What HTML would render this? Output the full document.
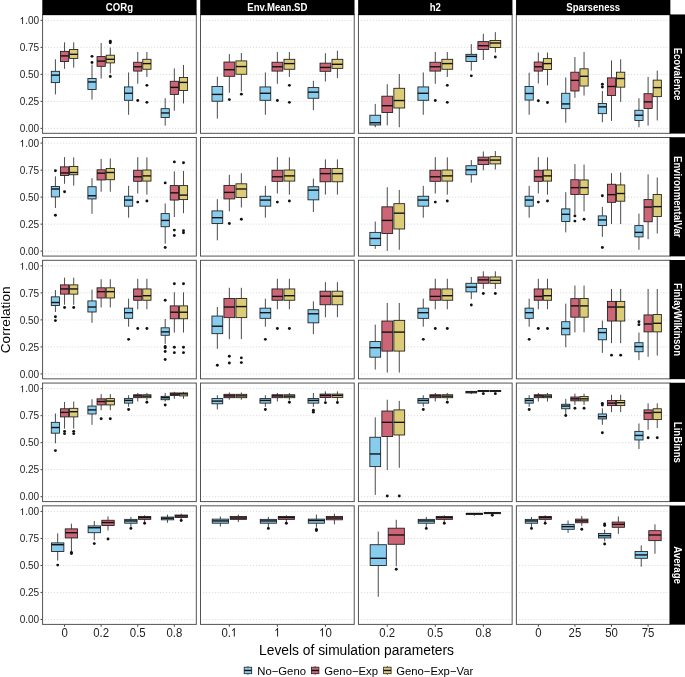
<!DOCTYPE html><html><head><meta charset="utf-8"><style>html,body{margin:0;padding:0;background:#fff;}svg{display:block;will-change:transform;}text{font-family:"Liberation Sans",sans-serif;}</style></head><body><svg width="685" height="677" viewBox="0 0 685 677"><rect x="0" y="0" width="685" height="677" fill="#fff"/><line x1="45.1" y1="128.37" x2="195.8" y2="128.37" stroke="#d2d2d2" stroke-width="0.9" stroke-dasharray="1 1.95" /><line x1="45.1" y1="101.37" x2="195.8" y2="101.37" stroke="#d2d2d2" stroke-width="0.9" stroke-dasharray="1 1.95" /><line x1="45.1" y1="74.36" x2="195.8" y2="74.36" stroke="#d2d2d2" stroke-width="0.9" stroke-dasharray="1 1.95" /><line x1="45.1" y1="47.36" x2="195.8" y2="47.36" stroke="#d2d2d2" stroke-width="0.9" stroke-dasharray="1 1.95" /><line x1="45.1" y1="20.35" x2="195.8" y2="20.35" stroke="#d2d2d2" stroke-width="0.9" stroke-dasharray="1 1.95" /><line x1="55.41" y1="59.3" x2="55.41" y2="71.3" stroke="#2a2a2a" stroke-width="0.85"/><line x1="55.41" y1="82.63" x2="55.41" y2="94.4" stroke="#2a2a2a" stroke-width="0.85"/><rect x="51.29" y="71.3" width="8.23" height="11.32" fill="#88CCEE" stroke="#1a1a1a" stroke-width="0.85"/><line x1="51.29" y1="75.15" x2="59.53" y2="75.15" stroke="#111" stroke-width="1.4"/><line x1="64.56" y1="42.32" x2="64.56" y2="51.37" stroke="#2a2a2a" stroke-width="0.85"/><line x1="64.56" y1="61.57" x2="64.56" y2="68.81" stroke="#2a2a2a" stroke-width="0.85"/><rect x="60.44" y="51.37" width="8.23" height="10.19" fill="#CC6677" stroke="#1a1a1a" stroke-width="0.85"/><line x1="60.44" y1="55.9" x2="68.67" y2="55.9" stroke="#111" stroke-width="1.4"/><line x1="73.71" y1="42.32" x2="73.71" y2="49.56" stroke="#2a2a2a" stroke-width="0.85"/><line x1="73.71" y1="58.39" x2="73.71" y2="67.68" stroke="#2a2a2a" stroke-width="0.85"/><rect x="69.59" y="49.56" width="8.23" height="8.83" fill="#DDCC77" stroke="#1a1a1a" stroke-width="0.85"/><line x1="69.59" y1="54.32" x2="77.82" y2="54.32" stroke="#111" stroke-width="1.4"/><line x1="92" y1="64.51" x2="92" y2="78.55" stroke="#2a2a2a" stroke-width="0.85"/><line x1="92" y1="89.42" x2="92" y2="99.61" stroke="#2a2a2a" stroke-width="0.85"/><rect x="87.89" y="78.55" width="8.23" height="10.87" fill="#88CCEE" stroke="#1a1a1a" stroke-width="0.85"/><line x1="87.89" y1="81.95" x2="96.12" y2="81.95" stroke="#111" stroke-width="1.4"/><circle cx="92" cy="56.36" r="1.45" fill="#111"/><circle cx="92" cy="62.47" r="1.45" fill="#111"/><line x1="101.15" y1="43" x2="101.15" y2="56.58" stroke="#2a2a2a" stroke-width="0.85"/><line x1="101.15" y1="66.32" x2="101.15" y2="78.55" stroke="#2a2a2a" stroke-width="0.85"/><rect x="97.04" y="56.58" width="8.23" height="9.74" fill="#CC6677" stroke="#1a1a1a" stroke-width="0.85"/><line x1="97.04" y1="61.11" x2="105.27" y2="61.11" stroke="#111" stroke-width="1.4"/><line x1="110.3" y1="47.52" x2="110.3" y2="55.22" stroke="#2a2a2a" stroke-width="0.85"/><line x1="110.3" y1="62.92" x2="110.3" y2="73.34" stroke="#2a2a2a" stroke-width="0.85"/><rect x="106.18" y="55.22" width="8.23" height="7.7" fill="#DDCC77" stroke="#1a1a1a" stroke-width="0.85"/><line x1="106.18" y1="59.3" x2="114.42" y2="59.3" stroke="#111" stroke-width="1.4"/><circle cx="110.3" cy="41.18" r="1.45" fill="#111"/><circle cx="110.3" cy="42.77" r="1.45" fill="#111"/><circle cx="110.3" cy="76.51" r="1.45" fill="#111"/><line x1="128.6" y1="72.44" x2="128.6" y2="86.93" stroke="#2a2a2a" stroke-width="0.85"/><line x1="128.6" y1="100.29" x2="128.6" y2="114.78" stroke="#2a2a2a" stroke-width="0.85"/><rect x="124.48" y="86.93" width="8.23" height="13.36" fill="#88CCEE" stroke="#1a1a1a" stroke-width="0.85"/><line x1="124.48" y1="93.27" x2="132.72" y2="93.27" stroke="#111" stroke-width="1.4"/><line x1="137.75" y1="52.05" x2="137.75" y2="62.24" stroke="#2a2a2a" stroke-width="0.85"/><line x1="137.75" y1="71.08" x2="137.75" y2="83.76" stroke="#2a2a2a" stroke-width="0.85"/><rect x="133.63" y="62.24" width="8.23" height="8.83" fill="#CC6677" stroke="#1a1a1a" stroke-width="0.85"/><line x1="133.63" y1="66.77" x2="141.86" y2="66.77" stroke="#111" stroke-width="1.4"/><circle cx="137.75" cy="100.52" r="1.45" fill="#111"/><line x1="146.9" y1="52.05" x2="146.9" y2="59.3" stroke="#2a2a2a" stroke-width="0.85"/><line x1="146.9" y1="69.26" x2="146.9" y2="76.96" stroke="#2a2a2a" stroke-width="0.85"/><rect x="142.78" y="59.3" width="8.23" height="9.96" fill="#DDCC77" stroke="#1a1a1a" stroke-width="0.85"/><line x1="142.78" y1="63.6" x2="151.01" y2="63.6" stroke="#111" stroke-width="1.4"/><circle cx="146.9" cy="85.34" r="1.45" fill="#111"/><circle cx="146.9" cy="102.33" r="1.45" fill="#111"/><line x1="165.19" y1="98.25" x2="165.19" y2="108.67" stroke="#2a2a2a" stroke-width="0.85"/><line x1="165.19" y1="117.5" x2="165.19" y2="125.65" stroke="#2a2a2a" stroke-width="0.85"/><rect x="161.08" y="108.67" width="8.23" height="8.83" fill="#88CCEE" stroke="#1a1a1a" stroke-width="0.85"/><line x1="161.08" y1="112.97" x2="169.31" y2="112.97" stroke="#111" stroke-width="1.4"/><line x1="174.34" y1="68.36" x2="174.34" y2="81.27" stroke="#2a2a2a" stroke-width="0.85"/><line x1="174.34" y1="94.4" x2="174.34" y2="110.71" stroke="#2a2a2a" stroke-width="0.85"/><rect x="170.23" y="81.27" width="8.23" height="13.13" fill="#CC6677" stroke="#1a1a1a" stroke-width="0.85"/><line x1="170.23" y1="87.38" x2="178.46" y2="87.38" stroke="#111" stroke-width="1.4"/><line x1="183.49" y1="64.96" x2="183.49" y2="77.42" stroke="#2a2a2a" stroke-width="0.85"/><line x1="183.49" y1="90.55" x2="183.49" y2="103.46" stroke="#2a2a2a" stroke-width="0.85"/><rect x="179.37" y="77.42" width="8.23" height="13.13" fill="#DDCC77" stroke="#1a1a1a" stroke-width="0.85"/><line x1="179.37" y1="82.4" x2="187.61" y2="82.4" stroke="#111" stroke-width="1.4"/><rect x="42.6" y="14.75" width="153.7" height="118.55" fill="none" stroke="#4a4a4a" stroke-width="0.95"/><line x1="203.02" y1="128.37" x2="353.72" y2="128.37" stroke="#d2d2d2" stroke-width="0.9" stroke-dasharray="1 1.95" /><line x1="203.02" y1="101.37" x2="353.72" y2="101.37" stroke="#d2d2d2" stroke-width="0.9" stroke-dasharray="1 1.95" /><line x1="203.02" y1="74.36" x2="353.72" y2="74.36" stroke="#d2d2d2" stroke-width="0.9" stroke-dasharray="1 1.95" /><line x1="203.02" y1="47.36" x2="353.72" y2="47.36" stroke="#d2d2d2" stroke-width="0.9" stroke-dasharray="1 1.95" /><line x1="203.02" y1="20.35" x2="353.72" y2="20.35" stroke="#d2d2d2" stroke-width="0.9" stroke-dasharray="1 1.95" /><line x1="217.33" y1="76.74" x2="217.33" y2="86.48" stroke="#2a2a2a" stroke-width="0.85"/><line x1="217.33" y1="101.2" x2="217.33" y2="118.63" stroke="#2a2a2a" stroke-width="0.85"/><rect x="211.93" y="86.48" width="10.81" height="14.72" fill="#88CCEE" stroke="#1a1a1a" stroke-width="0.85"/><line x1="211.93" y1="94.4" x2="222.73" y2="94.4" stroke="#111" stroke-width="1.4"/><line x1="229.34" y1="54.09" x2="229.34" y2="62.02" stroke="#2a2a2a" stroke-width="0.85"/><line x1="229.34" y1="76.28" x2="229.34" y2="92.82" stroke="#2a2a2a" stroke-width="0.85"/><rect x="223.94" y="62.02" width="10.81" height="14.27" fill="#CC6677" stroke="#1a1a1a" stroke-width="0.85"/><line x1="223.94" y1="69.72" x2="234.74" y2="69.72" stroke="#111" stroke-width="1.4"/><circle cx="229.34" cy="99.61" r="1.45" fill="#111"/><line x1="241.35" y1="52.96" x2="241.35" y2="60.89" stroke="#2a2a2a" stroke-width="0.85"/><line x1="241.35" y1="74.25" x2="241.35" y2="91.46" stroke="#2a2a2a" stroke-width="0.85"/><rect x="235.94" y="60.89" width="10.81" height="13.36" fill="#DDCC77" stroke="#1a1a1a" stroke-width="0.85"/><line x1="235.94" y1="66.55" x2="246.75" y2="66.55" stroke="#111" stroke-width="1.4"/><circle cx="241.35" cy="94.17" r="1.45" fill="#111"/><line x1="265.36" y1="72.44" x2="265.36" y2="86.93" stroke="#2a2a2a" stroke-width="0.85"/><line x1="265.36" y1="100.29" x2="265.36" y2="114.78" stroke="#2a2a2a" stroke-width="0.85"/><rect x="259.96" y="86.93" width="10.81" height="13.36" fill="#88CCEE" stroke="#1a1a1a" stroke-width="0.85"/><line x1="259.96" y1="93.27" x2="270.77" y2="93.27" stroke="#111" stroke-width="1.4"/><line x1="277.37" y1="52.05" x2="277.37" y2="62.24" stroke="#2a2a2a" stroke-width="0.85"/><line x1="277.37" y1="71.08" x2="277.37" y2="83.76" stroke="#2a2a2a" stroke-width="0.85"/><rect x="271.97" y="62.24" width="10.81" height="8.83" fill="#CC6677" stroke="#1a1a1a" stroke-width="0.85"/><line x1="271.97" y1="66.77" x2="282.77" y2="66.77" stroke="#111" stroke-width="1.4"/><circle cx="277.37" cy="100.52" r="1.45" fill="#111"/><line x1="289.38" y1="52.05" x2="289.38" y2="59.3" stroke="#2a2a2a" stroke-width="0.85"/><line x1="289.38" y1="69.26" x2="289.38" y2="76.96" stroke="#2a2a2a" stroke-width="0.85"/><rect x="283.97" y="59.3" width="10.81" height="9.96" fill="#DDCC77" stroke="#1a1a1a" stroke-width="0.85"/><line x1="283.97" y1="63.6" x2="294.78" y2="63.6" stroke="#111" stroke-width="1.4"/><circle cx="289.38" cy="85.34" r="1.45" fill="#111"/><circle cx="289.38" cy="102.33" r="1.45" fill="#111"/><line x1="313.39" y1="80.81" x2="313.39" y2="87.61" stroke="#2a2a2a" stroke-width="0.85"/><line x1="313.39" y1="98.25" x2="313.39" y2="110.25" stroke="#2a2a2a" stroke-width="0.85"/><rect x="307.99" y="87.61" width="10.81" height="10.64" fill="#88CCEE" stroke="#1a1a1a" stroke-width="0.85"/><line x1="307.99" y1="92.14" x2="318.8" y2="92.14" stroke="#111" stroke-width="1.4"/><line x1="325.4" y1="53.19" x2="325.4" y2="63.15" stroke="#2a2a2a" stroke-width="0.85"/><line x1="325.4" y1="71.3" x2="325.4" y2="81.49" stroke="#2a2a2a" stroke-width="0.85"/><rect x="320" y="63.15" width="10.81" height="8.15" fill="#CC6677" stroke="#1a1a1a" stroke-width="0.85"/><line x1="320" y1="67.45" x2="330.8" y2="67.45" stroke="#111" stroke-width="1.4"/><line x1="337.41" y1="50.7" x2="337.41" y2="59.3" stroke="#2a2a2a" stroke-width="0.85"/><line x1="337.41" y1="68.36" x2="337.41" y2="78.1" stroke="#2a2a2a" stroke-width="0.85"/><rect x="332.01" y="59.3" width="10.81" height="9.06" fill="#DDCC77" stroke="#1a1a1a" stroke-width="0.85"/><line x1="332.01" y1="64.28" x2="342.81" y2="64.28" stroke="#111" stroke-width="1.4"/><rect x="200.52" y="14.75" width="153.7" height="118.55" fill="none" stroke="#4a4a4a" stroke-width="0.95"/><line x1="360.94" y1="128.37" x2="511.64" y2="128.37" stroke="#d2d2d2" stroke-width="0.9" stroke-dasharray="1 1.95" /><line x1="360.94" y1="101.37" x2="511.64" y2="101.37" stroke="#d2d2d2" stroke-width="0.9" stroke-dasharray="1 1.95" /><line x1="360.94" y1="74.36" x2="511.64" y2="74.36" stroke="#d2d2d2" stroke-width="0.9" stroke-dasharray="1 1.95" /><line x1="360.94" y1="47.36" x2="511.64" y2="47.36" stroke="#d2d2d2" stroke-width="0.9" stroke-dasharray="1 1.95" /><line x1="360.94" y1="20.35" x2="511.64" y2="20.35" stroke="#d2d2d2" stroke-width="0.9" stroke-dasharray="1 1.95" /><line x1="375.25" y1="103.91" x2="375.25" y2="115.24" stroke="#2a2a2a" stroke-width="0.85"/><line x1="375.25" y1="124.97" x2="375.25" y2="127.24" stroke="#2a2a2a" stroke-width="0.85"/><rect x="369.85" y="115.24" width="10.81" height="9.74" fill="#88CCEE" stroke="#1a1a1a" stroke-width="0.85"/><line x1="369.85" y1="122.71" x2="380.65" y2="122.71" stroke="#111" stroke-width="1.4"/><line x1="387.26" y1="84.21" x2="387.26" y2="96.21" stroke="#2a2a2a" stroke-width="0.85"/><line x1="387.26" y1="112.52" x2="387.26" y2="125.43" stroke="#2a2a2a" stroke-width="0.85"/><rect x="381.86" y="96.21" width="10.81" height="16.3" fill="#CC6677" stroke="#1a1a1a" stroke-width="0.85"/><line x1="381.86" y1="105.72" x2="392.66" y2="105.72" stroke="#111" stroke-width="1.4"/><line x1="399.27" y1="74.02" x2="399.27" y2="88.29" stroke="#2a2a2a" stroke-width="0.85"/><line x1="399.27" y1="107.99" x2="399.27" y2="127.24" stroke="#2a2a2a" stroke-width="0.85"/><rect x="393.86" y="88.29" width="10.81" height="19.7" fill="#DDCC77" stroke="#1a1a1a" stroke-width="0.85"/><line x1="393.86" y1="100.52" x2="404.67" y2="100.52" stroke="#111" stroke-width="1.4"/><line x1="423.28" y1="72.44" x2="423.28" y2="86.93" stroke="#2a2a2a" stroke-width="0.85"/><line x1="423.28" y1="100.29" x2="423.28" y2="114.78" stroke="#2a2a2a" stroke-width="0.85"/><rect x="417.88" y="86.93" width="10.81" height="13.36" fill="#88CCEE" stroke="#1a1a1a" stroke-width="0.85"/><line x1="417.88" y1="93.27" x2="428.69" y2="93.27" stroke="#111" stroke-width="1.4"/><line x1="435.29" y1="52.05" x2="435.29" y2="62.24" stroke="#2a2a2a" stroke-width="0.85"/><line x1="435.29" y1="71.08" x2="435.29" y2="83.76" stroke="#2a2a2a" stroke-width="0.85"/><rect x="429.89" y="62.24" width="10.81" height="8.83" fill="#CC6677" stroke="#1a1a1a" stroke-width="0.85"/><line x1="429.89" y1="66.77" x2="440.69" y2="66.77" stroke="#111" stroke-width="1.4"/><circle cx="435.29" cy="100.52" r="1.45" fill="#111"/><line x1="447.3" y1="52.05" x2="447.3" y2="59.3" stroke="#2a2a2a" stroke-width="0.85"/><line x1="447.3" y1="69.26" x2="447.3" y2="76.96" stroke="#2a2a2a" stroke-width="0.85"/><rect x="441.89" y="59.3" width="10.81" height="9.96" fill="#DDCC77" stroke="#1a1a1a" stroke-width="0.85"/><line x1="441.89" y1="63.6" x2="452.7" y2="63.6" stroke="#111" stroke-width="1.4"/><circle cx="447.3" cy="85.34" r="1.45" fill="#111"/><circle cx="447.3" cy="102.33" r="1.45" fill="#111"/><line x1="471.31" y1="44.13" x2="471.31" y2="54.32" stroke="#2a2a2a" stroke-width="0.85"/><line x1="471.31" y1="61.57" x2="471.31" y2="70.62" stroke="#2a2a2a" stroke-width="0.85"/><rect x="465.91" y="54.32" width="10.81" height="7.25" fill="#88CCEE" stroke="#1a1a1a" stroke-width="0.85"/><line x1="465.91" y1="56.36" x2="476.72" y2="56.36" stroke="#111" stroke-width="1.4"/><circle cx="471.31" cy="75.83" r="1.45" fill="#111"/><line x1="483.32" y1="33.71" x2="483.32" y2="41.64" stroke="#2a2a2a" stroke-width="0.85"/><line x1="483.32" y1="49.56" x2="483.32" y2="59.98" stroke="#2a2a2a" stroke-width="0.85"/><rect x="477.92" y="41.64" width="10.81" height="7.93" fill="#CC6677" stroke="#1a1a1a" stroke-width="0.85"/><line x1="477.92" y1="45.71" x2="488.72" y2="45.71" stroke="#111" stroke-width="1.4"/><line x1="495.33" y1="32.13" x2="495.33" y2="40.5" stroke="#2a2a2a" stroke-width="0.85"/><line x1="495.33" y1="47.52" x2="495.33" y2="52.51" stroke="#2a2a2a" stroke-width="0.85"/><rect x="489.93" y="40.5" width="10.81" height="7.02" fill="#DDCC77" stroke="#1a1a1a" stroke-width="0.85"/><line x1="489.93" y1="43" x2="500.73" y2="43" stroke="#111" stroke-width="1.4"/><circle cx="495.33" cy="57.04" r="1.45" fill="#111"/><rect x="358.44" y="14.75" width="153.7" height="118.55" fill="none" stroke="#4a4a4a" stroke-width="0.95"/><line x1="518.86" y1="128.37" x2="669.56" y2="128.37" stroke="#d2d2d2" stroke-width="0.9" stroke-dasharray="1 1.95" /><line x1="518.86" y1="101.37" x2="669.56" y2="101.37" stroke="#d2d2d2" stroke-width="0.9" stroke-dasharray="1 1.95" /><line x1="518.86" y1="74.36" x2="669.56" y2="74.36" stroke="#d2d2d2" stroke-width="0.9" stroke-dasharray="1 1.95" /><line x1="518.86" y1="47.36" x2="669.56" y2="47.36" stroke="#d2d2d2" stroke-width="0.9" stroke-dasharray="1 1.95" /><line x1="518.86" y1="20.35" x2="669.56" y2="20.35" stroke="#d2d2d2" stroke-width="0.9" stroke-dasharray="1 1.95" /><line x1="529.17" y1="72.66" x2="529.17" y2="86.48" stroke="#2a2a2a" stroke-width="0.85"/><line x1="529.17" y1="100.06" x2="529.17" y2="114.78" stroke="#2a2a2a" stroke-width="0.85"/><rect x="525.05" y="86.48" width="8.23" height="13.59" fill="#88CCEE" stroke="#1a1a1a" stroke-width="0.85"/><line x1="525.05" y1="93.5" x2="533.29" y2="93.5" stroke="#111" stroke-width="1.4"/><line x1="538.32" y1="52.51" x2="538.32" y2="62.02" stroke="#2a2a2a" stroke-width="0.85"/><line x1="538.32" y1="71.08" x2="538.32" y2="83.53" stroke="#2a2a2a" stroke-width="0.85"/><rect x="534.2" y="62.02" width="8.23" height="9.06" fill="#CC6677" stroke="#1a1a1a" stroke-width="0.85"/><line x1="534.2" y1="66.77" x2="542.43" y2="66.77" stroke="#111" stroke-width="1.4"/><circle cx="538.32" cy="100.74" r="1.45" fill="#111"/><line x1="547.47" y1="52.51" x2="547.47" y2="58.62" stroke="#2a2a2a" stroke-width="0.85"/><line x1="547.47" y1="69.49" x2="547.47" y2="85.34" stroke="#2a2a2a" stroke-width="0.85"/><rect x="543.35" y="58.62" width="8.23" height="10.87" fill="#DDCC77" stroke="#1a1a1a" stroke-width="0.85"/><line x1="543.35" y1="63.6" x2="551.58" y2="63.6" stroke="#111" stroke-width="1.4"/><circle cx="547.47" cy="102.55" r="1.45" fill="#111"/><line x1="565.76" y1="77.42" x2="565.76" y2="93.27" stroke="#2a2a2a" stroke-width="0.85"/><line x1="565.76" y1="108.67" x2="565.76" y2="122.71" stroke="#2a2a2a" stroke-width="0.85"/><rect x="561.65" y="93.27" width="8.23" height="15.4" fill="#88CCEE" stroke="#1a1a1a" stroke-width="0.85"/><line x1="561.65" y1="103.91" x2="569.88" y2="103.91" stroke="#111" stroke-width="1.4"/><line x1="574.91" y1="57.04" x2="574.91" y2="72.21" stroke="#2a2a2a" stroke-width="0.85"/><line x1="574.91" y1="91" x2="574.91" y2="97.8" stroke="#2a2a2a" stroke-width="0.85"/><rect x="570.8" y="72.21" width="8.23" height="18.8" fill="#CC6677" stroke="#1a1a1a" stroke-width="0.85"/><line x1="570.8" y1="80.36" x2="579.03" y2="80.36" stroke="#111" stroke-width="1.4"/><line x1="584.06" y1="52.05" x2="584.06" y2="68.81" stroke="#2a2a2a" stroke-width="0.85"/><line x1="584.06" y1="86.02" x2="584.06" y2="95.53" stroke="#2a2a2a" stroke-width="0.85"/><rect x="579.94" y="68.81" width="8.23" height="17.21" fill="#DDCC77" stroke="#1a1a1a" stroke-width="0.85"/><line x1="579.94" y1="76.28" x2="588.18" y2="76.28" stroke="#111" stroke-width="1.4"/><line x1="602.36" y1="91" x2="602.36" y2="103.46" stroke="#2a2a2a" stroke-width="0.85"/><line x1="602.36" y1="113.65" x2="602.36" y2="122.26" stroke="#2a2a2a" stroke-width="0.85"/><rect x="598.24" y="103.46" width="8.23" height="10.19" fill="#88CCEE" stroke="#1a1a1a" stroke-width="0.85"/><line x1="598.24" y1="106.86" x2="606.48" y2="106.86" stroke="#111" stroke-width="1.4"/><circle cx="602.36" cy="84.21" r="1.45" fill="#111"/><circle cx="602.36" cy="86.93" r="1.45" fill="#111"/><line x1="611.51" y1="60.43" x2="611.51" y2="77.87" stroke="#2a2a2a" stroke-width="0.85"/><line x1="611.51" y1="95.53" x2="611.51" y2="120.9" stroke="#2a2a2a" stroke-width="0.85"/><rect x="607.39" y="77.87" width="8.23" height="17.66" fill="#CC6677" stroke="#1a1a1a" stroke-width="0.85"/><line x1="607.39" y1="86.48" x2="615.62" y2="86.48" stroke="#111" stroke-width="1.4"/><line x1="620.66" y1="59.3" x2="620.66" y2="72.21" stroke="#2a2a2a" stroke-width="0.85"/><line x1="620.66" y1="87.15" x2="620.66" y2="101.87" stroke="#2a2a2a" stroke-width="0.85"/><rect x="616.54" y="72.21" width="8.23" height="14.95" fill="#DDCC77" stroke="#1a1a1a" stroke-width="0.85"/><line x1="616.54" y1="78.55" x2="624.77" y2="78.55" stroke="#111" stroke-width="1.4"/><line x1="638.95" y1="98.25" x2="638.95" y2="110.25" stroke="#2a2a2a" stroke-width="0.85"/><line x1="638.95" y1="120.44" x2="638.95" y2="127.24" stroke="#2a2a2a" stroke-width="0.85"/><rect x="634.84" y="110.25" width="8.23" height="10.19" fill="#88CCEE" stroke="#1a1a1a" stroke-width="0.85"/><line x1="634.84" y1="115.24" x2="643.07" y2="115.24" stroke="#111" stroke-width="1.4"/><line x1="648.1" y1="76.96" x2="648.1" y2="93.72" stroke="#2a2a2a" stroke-width="0.85"/><line x1="648.1" y1="108.44" x2="648.1" y2="125.65" stroke="#2a2a2a" stroke-width="0.85"/><rect x="643.99" y="93.72" width="8.23" height="14.72" fill="#CC6677" stroke="#1a1a1a" stroke-width="0.85"/><line x1="643.99" y1="101.87" x2="652.22" y2="101.87" stroke="#111" stroke-width="1.4"/><line x1="657.25" y1="70.62" x2="657.25" y2="80.13" stroke="#2a2a2a" stroke-width="0.85"/><line x1="657.25" y1="96.67" x2="657.25" y2="120.44" stroke="#2a2a2a" stroke-width="0.85"/><rect x="653.13" y="80.13" width="8.23" height="16.53" fill="#DDCC77" stroke="#1a1a1a" stroke-width="0.85"/><line x1="653.13" y1="87.61" x2="661.37" y2="87.61" stroke="#111" stroke-width="1.4"/><rect x="516.36" y="14.75" width="153.7" height="118.55" fill="none" stroke="#4a4a4a" stroke-width="0.95"/><line x1="45.1" y1="251.14" x2="195.8" y2="251.14" stroke="#d2d2d2" stroke-width="0.9" stroke-dasharray="1 1.95" /><line x1="45.1" y1="224.13" x2="195.8" y2="224.13" stroke="#d2d2d2" stroke-width="0.9" stroke-dasharray="1 1.95" /><line x1="45.1" y1="197.13" x2="195.8" y2="197.13" stroke="#d2d2d2" stroke-width="0.9" stroke-dasharray="1 1.95" /><line x1="45.1" y1="170.12" x2="195.8" y2="170.12" stroke="#d2d2d2" stroke-width="0.9" stroke-dasharray="1 1.95" /><line x1="45.1" y1="143.12" x2="195.8" y2="143.12" stroke="#d2d2d2" stroke-width="0.9" stroke-dasharray="1 1.95" /><line x1="55.41" y1="176.34" x2="55.41" y2="186.51" stroke="#2a2a2a" stroke-width="0.85"/><line x1="55.41" y1="196.9" x2="55.41" y2="207.98" stroke="#2a2a2a" stroke-width="0.85"/><rect x="51.29" y="186.51" width="8.23" height="10.4" fill="#88CCEE" stroke="#1a1a1a" stroke-width="0.85"/><line x1="51.29" y1="188.99" x2="59.53" y2="188.99" stroke="#111" stroke-width="1.4"/><circle cx="55.41" cy="170.69" r="1.45" fill="#111"/><circle cx="55.41" cy="215.21" r="1.45" fill="#111"/><line x1="64.56" y1="157.13" x2="64.56" y2="166.85" stroke="#2a2a2a" stroke-width="0.85"/><line x1="64.56" y1="175.44" x2="64.56" y2="183.8" stroke="#2a2a2a" stroke-width="0.85"/><rect x="60.44" y="166.85" width="8.23" height="8.59" fill="#CC6677" stroke="#1a1a1a" stroke-width="0.85"/><line x1="60.44" y1="172.95" x2="68.67" y2="172.95" stroke="#111" stroke-width="1.4"/><circle cx="64.56" cy="191.71" r="1.45" fill="#111"/><line x1="73.71" y1="157.36" x2="73.71" y2="166.4" stroke="#2a2a2a" stroke-width="0.85"/><line x1="73.71" y1="174.76" x2="73.71" y2="185.6" stroke="#2a2a2a" stroke-width="0.85"/><rect x="69.59" y="166.4" width="8.23" height="8.36" fill="#DDCC77" stroke="#1a1a1a" stroke-width="0.85"/><line x1="69.59" y1="172.5" x2="77.82" y2="172.5" stroke="#111" stroke-width="1.4"/><line x1="92" y1="178.15" x2="92" y2="186.73" stroke="#2a2a2a" stroke-width="0.85"/><line x1="92" y1="198.94" x2="92" y2="213.85" stroke="#2a2a2a" stroke-width="0.85"/><rect x="87.89" y="186.73" width="8.23" height="12.2" fill="#88CCEE" stroke="#1a1a1a" stroke-width="0.85"/><line x1="87.89" y1="195.77" x2="96.12" y2="195.77" stroke="#111" stroke-width="1.4"/><line x1="101.15" y1="158.94" x2="101.15" y2="169.79" stroke="#2a2a2a" stroke-width="0.85"/><line x1="101.15" y1="179.96" x2="101.15" y2="191.71" stroke="#2a2a2a" stroke-width="0.85"/><rect x="97.04" y="169.79" width="8.23" height="10.17" fill="#CC6677" stroke="#1a1a1a" stroke-width="0.85"/><line x1="97.04" y1="173.18" x2="105.27" y2="173.18" stroke="#111" stroke-width="1.4"/><line x1="110.3" y1="158.49" x2="110.3" y2="168.43" stroke="#2a2a2a" stroke-width="0.85"/><line x1="110.3" y1="179.73" x2="110.3" y2="191.71" stroke="#2a2a2a" stroke-width="0.85"/><rect x="106.18" y="168.43" width="8.23" height="11.3" fill="#DDCC77" stroke="#1a1a1a" stroke-width="0.85"/><line x1="106.18" y1="172.5" x2="114.42" y2="172.5" stroke="#111" stroke-width="1.4"/><line x1="128.6" y1="185.83" x2="128.6" y2="196.23" stroke="#2a2a2a" stroke-width="0.85"/><line x1="128.6" y1="206.17" x2="128.6" y2="217.69" stroke="#2a2a2a" stroke-width="0.85"/><rect x="124.48" y="196.23" width="8.23" height="9.94" fill="#88CCEE" stroke="#1a1a1a" stroke-width="0.85"/><line x1="124.48" y1="200.07" x2="132.72" y2="200.07" stroke="#111" stroke-width="1.4"/><line x1="137.75" y1="157.13" x2="137.75" y2="170.24" stroke="#2a2a2a" stroke-width="0.85"/><line x1="137.75" y1="181.31" x2="137.75" y2="193.51" stroke="#2a2a2a" stroke-width="0.85"/><rect x="133.63" y="170.24" width="8.23" height="11.07" fill="#CC6677" stroke="#1a1a1a" stroke-width="0.85"/><line x1="133.63" y1="176.79" x2="141.86" y2="176.79" stroke="#111" stroke-width="1.4"/><circle cx="137.75" cy="202.1" r="1.45" fill="#111"/><line x1="146.9" y1="157.36" x2="146.9" y2="170.01" stroke="#2a2a2a" stroke-width="0.85"/><line x1="146.9" y1="181.09" x2="146.9" y2="194.64" stroke="#2a2a2a" stroke-width="0.85"/><rect x="142.78" y="170.01" width="8.23" height="11.07" fill="#DDCC77" stroke="#1a1a1a" stroke-width="0.85"/><line x1="142.78" y1="175.89" x2="151.01" y2="175.89" stroke="#111" stroke-width="1.4"/><circle cx="146.9" cy="200.97" r="1.45" fill="#111"/><line x1="165.19" y1="203.46" x2="165.19" y2="213.63" stroke="#2a2a2a" stroke-width="0.85"/><line x1="165.19" y1="226.73" x2="165.19" y2="243.68" stroke="#2a2a2a" stroke-width="0.85"/><rect x="161.08" y="213.63" width="8.23" height="13.11" fill="#88CCEE" stroke="#1a1a1a" stroke-width="0.85"/><line x1="161.08" y1="220.41" x2="169.31" y2="220.41" stroke="#111" stroke-width="1.4"/><circle cx="165.19" cy="182.89" r="1.45" fill="#111"/><circle cx="165.19" cy="247.52" r="1.45" fill="#111"/><line x1="174.34" y1="171.37" x2="174.34" y2="185.6" stroke="#2a2a2a" stroke-width="0.85"/><line x1="174.34" y1="200.07" x2="174.34" y2="217.02" stroke="#2a2a2a" stroke-width="0.85"/><rect x="170.23" y="185.6" width="8.23" height="14.46" fill="#CC6677" stroke="#1a1a1a" stroke-width="0.85"/><line x1="170.23" y1="192.84" x2="178.46" y2="192.84" stroke="#111" stroke-width="1.4"/><circle cx="174.34" cy="161.88" r="1.45" fill="#111"/><circle cx="174.34" cy="230.12" r="1.45" fill="#111"/><circle cx="174.34" cy="235.55" r="1.45" fill="#111"/><line x1="183.49" y1="170.92" x2="183.49" y2="185.6" stroke="#2a2a2a" stroke-width="0.85"/><line x1="183.49" y1="199.62" x2="183.49" y2="213.17" stroke="#2a2a2a" stroke-width="0.85"/><rect x="179.37" y="185.6" width="8.23" height="14.01" fill="#DDCC77" stroke="#1a1a1a" stroke-width="0.85"/><line x1="179.37" y1="195.1" x2="187.61" y2="195.1" stroke="#111" stroke-width="1.4"/><circle cx="183.49" cy="162.78" r="1.45" fill="#111"/><circle cx="183.49" cy="230.8" r="1.45" fill="#111"/><circle cx="183.49" cy="232.84" r="1.45" fill="#111"/><rect x="42.6" y="137.52" width="153.7" height="118.55" fill="none" stroke="#4a4a4a" stroke-width="0.95"/><line x1="203.02" y1="251.14" x2="353.72" y2="251.14" stroke="#d2d2d2" stroke-width="0.9" stroke-dasharray="1 1.95" /><line x1="203.02" y1="224.13" x2="353.72" y2="224.13" stroke="#d2d2d2" stroke-width="0.9" stroke-dasharray="1 1.95" /><line x1="203.02" y1="197.13" x2="353.72" y2="197.13" stroke="#d2d2d2" stroke-width="0.9" stroke-dasharray="1 1.95" /><line x1="203.02" y1="170.12" x2="353.72" y2="170.12" stroke="#d2d2d2" stroke-width="0.9" stroke-dasharray="1 1.95" /><line x1="203.02" y1="143.12" x2="353.72" y2="143.12" stroke="#d2d2d2" stroke-width="0.9" stroke-dasharray="1 1.95" /><line x1="217.33" y1="199.16" x2="217.33" y2="210.91" stroke="#2a2a2a" stroke-width="0.85"/><line x1="217.33" y1="223.57" x2="217.33" y2="240.29" stroke="#2a2a2a" stroke-width="0.85"/><rect x="211.93" y="210.91" width="10.81" height="12.66" fill="#88CCEE" stroke="#1a1a1a" stroke-width="0.85"/><line x1="211.93" y1="217.69" x2="222.73" y2="217.69" stroke="#111" stroke-width="1.4"/><line x1="229.34" y1="174.76" x2="229.34" y2="185.38" stroke="#2a2a2a" stroke-width="0.85"/><line x1="229.34" y1="198.94" x2="229.34" y2="211.37" stroke="#2a2a2a" stroke-width="0.85"/><rect x="223.94" y="185.38" width="10.81" height="13.56" fill="#CC6677" stroke="#1a1a1a" stroke-width="0.85"/><line x1="223.94" y1="192.38" x2="234.74" y2="192.38" stroke="#111" stroke-width="1.4"/><circle cx="229.34" cy="223.57" r="1.45" fill="#111"/><line x1="241.35" y1="173.18" x2="241.35" y2="183.8" stroke="#2a2a2a" stroke-width="0.85"/><line x1="241.35" y1="197.58" x2="241.35" y2="207.53" stroke="#2a2a2a" stroke-width="0.85"/><rect x="235.94" y="183.8" width="10.81" height="13.78" fill="#DDCC77" stroke="#1a1a1a" stroke-width="0.85"/><line x1="235.94" y1="188.99" x2="246.75" y2="188.99" stroke="#111" stroke-width="1.4"/><circle cx="241.35" cy="219.28" r="1.45" fill="#111"/><line x1="265.36" y1="185.83" x2="265.36" y2="196.23" stroke="#2a2a2a" stroke-width="0.85"/><line x1="265.36" y1="206.17" x2="265.36" y2="217.69" stroke="#2a2a2a" stroke-width="0.85"/><rect x="259.96" y="196.23" width="10.81" height="9.94" fill="#88CCEE" stroke="#1a1a1a" stroke-width="0.85"/><line x1="259.96" y1="200.07" x2="270.77" y2="200.07" stroke="#111" stroke-width="1.4"/><line x1="277.37" y1="157.13" x2="277.37" y2="170.24" stroke="#2a2a2a" stroke-width="0.85"/><line x1="277.37" y1="181.31" x2="277.37" y2="193.51" stroke="#2a2a2a" stroke-width="0.85"/><rect x="271.97" y="170.24" width="10.81" height="11.07" fill="#CC6677" stroke="#1a1a1a" stroke-width="0.85"/><line x1="271.97" y1="176.79" x2="282.77" y2="176.79" stroke="#111" stroke-width="1.4"/><circle cx="277.37" cy="202.1" r="1.45" fill="#111"/><line x1="289.38" y1="157.36" x2="289.38" y2="170.01" stroke="#2a2a2a" stroke-width="0.85"/><line x1="289.38" y1="181.09" x2="289.38" y2="194.64" stroke="#2a2a2a" stroke-width="0.85"/><rect x="283.97" y="170.01" width="10.81" height="11.07" fill="#DDCC77" stroke="#1a1a1a" stroke-width="0.85"/><line x1="283.97" y1="175.89" x2="294.78" y2="175.89" stroke="#111" stroke-width="1.4"/><circle cx="289.38" cy="200.97" r="1.45" fill="#111"/><line x1="313.39" y1="178.6" x2="313.39" y2="186.73" stroke="#2a2a2a" stroke-width="0.85"/><line x1="313.39" y1="199.84" x2="313.39" y2="212.04" stroke="#2a2a2a" stroke-width="0.85"/><rect x="307.99" y="186.73" width="10.81" height="13.11" fill="#88CCEE" stroke="#1a1a1a" stroke-width="0.85"/><line x1="307.99" y1="190.12" x2="318.8" y2="190.12" stroke="#111" stroke-width="1.4"/><line x1="325.4" y1="159.39" x2="325.4" y2="168.43" stroke="#2a2a2a" stroke-width="0.85"/><line x1="325.4" y1="181.76" x2="325.4" y2="194.64" stroke="#2a2a2a" stroke-width="0.85"/><rect x="320" y="168.43" width="10.81" height="13.33" fill="#CC6677" stroke="#1a1a1a" stroke-width="0.85"/><line x1="320" y1="173.63" x2="330.8" y2="173.63" stroke="#111" stroke-width="1.4"/><line x1="337.41" y1="159.39" x2="337.41" y2="168.43" stroke="#2a2a2a" stroke-width="0.85"/><line x1="337.41" y1="181.76" x2="337.41" y2="194.64" stroke="#2a2a2a" stroke-width="0.85"/><rect x="332.01" y="168.43" width="10.81" height="13.33" fill="#DDCC77" stroke="#1a1a1a" stroke-width="0.85"/><line x1="332.01" y1="173.63" x2="342.81" y2="173.63" stroke="#111" stroke-width="1.4"/><rect x="200.52" y="137.52" width="153.7" height="118.55" fill="none" stroke="#4a4a4a" stroke-width="0.95"/><line x1="360.94" y1="251.14" x2="511.64" y2="251.14" stroke="#d2d2d2" stroke-width="0.9" stroke-dasharray="1 1.95" /><line x1="360.94" y1="224.13" x2="511.64" y2="224.13" stroke="#d2d2d2" stroke-width="0.9" stroke-dasharray="1 1.95" /><line x1="360.94" y1="197.13" x2="511.64" y2="197.13" stroke="#d2d2d2" stroke-width="0.9" stroke-dasharray="1 1.95" /><line x1="360.94" y1="170.12" x2="511.64" y2="170.12" stroke="#d2d2d2" stroke-width="0.9" stroke-dasharray="1 1.95" /><line x1="360.94" y1="143.12" x2="511.64" y2="143.12" stroke="#d2d2d2" stroke-width="0.9" stroke-dasharray="1 1.95" /><line x1="375.25" y1="221.54" x2="375.25" y2="232.38" stroke="#2a2a2a" stroke-width="0.85"/><line x1="375.25" y1="245.49" x2="375.25" y2="248.88" stroke="#2a2a2a" stroke-width="0.85"/><rect x="369.85" y="232.38" width="10.81" height="13.11" fill="#88CCEE" stroke="#1a1a1a" stroke-width="0.85"/><line x1="369.85" y1="238.48" x2="380.65" y2="238.48" stroke="#111" stroke-width="1.4"/><line x1="387.26" y1="187.19" x2="387.26" y2="206.85" stroke="#2a2a2a" stroke-width="0.85"/><line x1="387.26" y1="233.51" x2="387.26" y2="250.91" stroke="#2a2a2a" stroke-width="0.85"/><rect x="381.86" y="206.85" width="10.81" height="26.67" fill="#CC6677" stroke="#1a1a1a" stroke-width="0.85"/><line x1="381.86" y1="220.41" x2="392.66" y2="220.41" stroke="#111" stroke-width="1.4"/><line x1="399.27" y1="189.9" x2="399.27" y2="203.68" stroke="#2a2a2a" stroke-width="0.85"/><line x1="399.27" y1="228.99" x2="399.27" y2="249.78" stroke="#2a2a2a" stroke-width="0.85"/><rect x="393.86" y="203.68" width="10.81" height="25.31" fill="#DDCC77" stroke="#1a1a1a" stroke-width="0.85"/><line x1="393.86" y1="213.17" x2="404.67" y2="213.17" stroke="#111" stroke-width="1.4"/><line x1="423.28" y1="185.83" x2="423.28" y2="196.23" stroke="#2a2a2a" stroke-width="0.85"/><line x1="423.28" y1="206.17" x2="423.28" y2="217.69" stroke="#2a2a2a" stroke-width="0.85"/><rect x="417.88" y="196.23" width="10.81" height="9.94" fill="#88CCEE" stroke="#1a1a1a" stroke-width="0.85"/><line x1="417.88" y1="200.07" x2="428.69" y2="200.07" stroke="#111" stroke-width="1.4"/><line x1="435.29" y1="157.13" x2="435.29" y2="170.24" stroke="#2a2a2a" stroke-width="0.85"/><line x1="435.29" y1="181.31" x2="435.29" y2="193.51" stroke="#2a2a2a" stroke-width="0.85"/><rect x="429.89" y="170.24" width="10.81" height="11.07" fill="#CC6677" stroke="#1a1a1a" stroke-width="0.85"/><line x1="429.89" y1="176.79" x2="440.69" y2="176.79" stroke="#111" stroke-width="1.4"/><circle cx="435.29" cy="202.1" r="1.45" fill="#111"/><line x1="447.3" y1="157.36" x2="447.3" y2="170.01" stroke="#2a2a2a" stroke-width="0.85"/><line x1="447.3" y1="181.09" x2="447.3" y2="194.64" stroke="#2a2a2a" stroke-width="0.85"/><rect x="441.89" y="170.01" width="10.81" height="11.07" fill="#DDCC77" stroke="#1a1a1a" stroke-width="0.85"/><line x1="441.89" y1="175.89" x2="452.7" y2="175.89" stroke="#111" stroke-width="1.4"/><circle cx="447.3" cy="200.97" r="1.45" fill="#111"/><line x1="471.31" y1="160.07" x2="471.31" y2="165.72" stroke="#2a2a2a" stroke-width="0.85"/><line x1="471.31" y1="174.76" x2="471.31" y2="182.67" stroke="#2a2a2a" stroke-width="0.85"/><rect x="465.91" y="165.72" width="10.81" height="9.04" fill="#88CCEE" stroke="#1a1a1a" stroke-width="0.85"/><line x1="465.91" y1="169.79" x2="476.72" y2="169.79" stroke="#111" stroke-width="1.4"/><line x1="483.32" y1="151.48" x2="483.32" y2="157.13" stroke="#2a2a2a" stroke-width="0.85"/><line x1="483.32" y1="164.59" x2="483.32" y2="170.24" stroke="#2a2a2a" stroke-width="0.85"/><rect x="477.92" y="157.13" width="10.81" height="7.46" fill="#CC6677" stroke="#1a1a1a" stroke-width="0.85"/><line x1="477.92" y1="160.07" x2="488.72" y2="160.07" stroke="#111" stroke-width="1.4"/><line x1="495.33" y1="151.03" x2="495.33" y2="156.68" stroke="#2a2a2a" stroke-width="0.85"/><line x1="495.33" y1="163.91" x2="495.33" y2="169.56" stroke="#2a2a2a" stroke-width="0.85"/><rect x="489.93" y="156.68" width="10.81" height="7.23" fill="#DDCC77" stroke="#1a1a1a" stroke-width="0.85"/><line x1="489.93" y1="160.07" x2="500.73" y2="160.07" stroke="#111" stroke-width="1.4"/><rect x="358.44" y="137.52" width="153.7" height="118.55" fill="none" stroke="#4a4a4a" stroke-width="0.95"/><line x1="518.86" y1="251.14" x2="669.56" y2="251.14" stroke="#d2d2d2" stroke-width="0.9" stroke-dasharray="1 1.95" /><line x1="518.86" y1="224.13" x2="669.56" y2="224.13" stroke="#d2d2d2" stroke-width="0.9" stroke-dasharray="1 1.95" /><line x1="518.86" y1="197.13" x2="669.56" y2="197.13" stroke="#d2d2d2" stroke-width="0.9" stroke-dasharray="1 1.95" /><line x1="518.86" y1="170.12" x2="669.56" y2="170.12" stroke="#d2d2d2" stroke-width="0.9" stroke-dasharray="1 1.95" /><line x1="518.86" y1="143.12" x2="669.56" y2="143.12" stroke="#d2d2d2" stroke-width="0.9" stroke-dasharray="1 1.95" /><line x1="529.17" y1="185.83" x2="529.17" y2="196.23" stroke="#2a2a2a" stroke-width="0.85"/><line x1="529.17" y1="206.17" x2="529.17" y2="217.69" stroke="#2a2a2a" stroke-width="0.85"/><rect x="525.05" y="196.23" width="8.23" height="9.94" fill="#88CCEE" stroke="#1a1a1a" stroke-width="0.85"/><line x1="525.05" y1="200.07" x2="533.29" y2="200.07" stroke="#111" stroke-width="1.4"/><line x1="538.32" y1="157.13" x2="538.32" y2="170.24" stroke="#2a2a2a" stroke-width="0.85"/><line x1="538.32" y1="181.31" x2="538.32" y2="193.51" stroke="#2a2a2a" stroke-width="0.85"/><rect x="534.2" y="170.24" width="8.23" height="11.07" fill="#CC6677" stroke="#1a1a1a" stroke-width="0.85"/><line x1="534.2" y1="176.79" x2="542.43" y2="176.79" stroke="#111" stroke-width="1.4"/><circle cx="538.32" cy="202.1" r="1.45" fill="#111"/><line x1="547.47" y1="157.36" x2="547.47" y2="170.01" stroke="#2a2a2a" stroke-width="0.85"/><line x1="547.47" y1="181.09" x2="547.47" y2="194.64" stroke="#2a2a2a" stroke-width="0.85"/><rect x="543.35" y="170.01" width="8.23" height="11.07" fill="#DDCC77" stroke="#1a1a1a" stroke-width="0.85"/><line x1="543.35" y1="175.89" x2="551.58" y2="175.89" stroke="#111" stroke-width="1.4"/><circle cx="547.47" cy="200.97" r="1.45" fill="#111"/><line x1="565.76" y1="192.16" x2="565.76" y2="208.88" stroke="#2a2a2a" stroke-width="0.85"/><line x1="565.76" y1="221.54" x2="565.76" y2="232.38" stroke="#2a2a2a" stroke-width="0.85"/><rect x="561.65" y="208.88" width="8.23" height="12.66" fill="#88CCEE" stroke="#1a1a1a" stroke-width="0.85"/><line x1="561.65" y1="214.3" x2="569.88" y2="214.3" stroke="#111" stroke-width="1.4"/><line x1="574.91" y1="164.14" x2="574.91" y2="179.73" stroke="#2a2a2a" stroke-width="0.85"/><line x1="574.91" y1="194.42" x2="574.91" y2="214.3" stroke="#2a2a2a" stroke-width="0.85"/><rect x="570.8" y="179.73" width="8.23" height="14.69" fill="#CC6677" stroke="#1a1a1a" stroke-width="0.85"/><line x1="570.8" y1="187.64" x2="579.03" y2="187.64" stroke="#111" stroke-width="1.4"/><circle cx="574.91" cy="215.89" r="1.45" fill="#111"/><circle cx="574.91" cy="221.08" r="1.45" fill="#111"/><line x1="584.06" y1="164.59" x2="584.06" y2="179.96" stroke="#2a2a2a" stroke-width="0.85"/><line x1="584.06" y1="194.42" x2="584.06" y2="211.37" stroke="#2a2a2a" stroke-width="0.85"/><rect x="579.94" y="179.96" width="8.23" height="14.46" fill="#DDCC77" stroke="#1a1a1a" stroke-width="0.85"/><line x1="579.94" y1="187.64" x2="588.18" y2="187.64" stroke="#111" stroke-width="1.4"/><circle cx="584.06" cy="219.28" r="1.45" fill="#111"/><line x1="602.36" y1="206.85" x2="602.36" y2="215.89" stroke="#2a2a2a" stroke-width="0.85"/><line x1="602.36" y1="225.6" x2="602.36" y2="236.9" stroke="#2a2a2a" stroke-width="0.85"/><rect x="598.24" y="215.89" width="8.23" height="9.72" fill="#88CCEE" stroke="#1a1a1a" stroke-width="0.85"/><line x1="598.24" y1="219.95" x2="606.48" y2="219.95" stroke="#111" stroke-width="1.4"/><circle cx="602.36" cy="195.77" r="1.45" fill="#111"/><circle cx="602.36" cy="247.52" r="1.45" fill="#111"/><line x1="611.51" y1="173.18" x2="611.51" y2="184.25" stroke="#2a2a2a" stroke-width="0.85"/><line x1="611.51" y1="202.33" x2="611.51" y2="224.02" stroke="#2a2a2a" stroke-width="0.85"/><rect x="607.39" y="184.25" width="8.23" height="18.08" fill="#CC6677" stroke="#1a1a1a" stroke-width="0.85"/><line x1="607.39" y1="194.64" x2="615.62" y2="194.64" stroke="#111" stroke-width="1.4"/><line x1="620.66" y1="172.5" x2="620.66" y2="184.93" stroke="#2a2a2a" stroke-width="0.85"/><line x1="620.66" y1="201.2" x2="620.66" y2="224.02" stroke="#2a2a2a" stroke-width="0.85"/><rect x="616.54" y="184.93" width="8.23" height="16.27" fill="#DDCC77" stroke="#1a1a1a" stroke-width="0.85"/><line x1="616.54" y1="193.51" x2="624.77" y2="193.51" stroke="#111" stroke-width="1.4"/><line x1="638.95" y1="213.63" x2="638.95" y2="225.6" stroke="#2a2a2a" stroke-width="0.85"/><line x1="638.95" y1="236.9" x2="638.95" y2="249.78" stroke="#2a2a2a" stroke-width="0.85"/><rect x="634.84" y="225.6" width="8.23" height="11.3" fill="#88CCEE" stroke="#1a1a1a" stroke-width="0.85"/><line x1="634.84" y1="232.38" x2="643.07" y2="232.38" stroke="#111" stroke-width="1.4"/><line x1="648.1" y1="174.31" x2="648.1" y2="199.62" stroke="#2a2a2a" stroke-width="0.85"/><line x1="648.1" y1="221.76" x2="648.1" y2="239.16" stroke="#2a2a2a" stroke-width="0.85"/><rect x="643.99" y="199.62" width="8.23" height="22.15" fill="#CC6677" stroke="#1a1a1a" stroke-width="0.85"/><line x1="643.99" y1="207.07" x2="652.22" y2="207.07" stroke="#111" stroke-width="1.4"/><line x1="657.25" y1="177.47" x2="657.25" y2="194.42" stroke="#2a2a2a" stroke-width="0.85"/><line x1="657.25" y1="216.56" x2="657.25" y2="233.51" stroke="#2a2a2a" stroke-width="0.85"/><rect x="653.13" y="194.42" width="8.23" height="22.15" fill="#DDCC77" stroke="#1a1a1a" stroke-width="0.85"/><line x1="653.13" y1="206.62" x2="661.37" y2="206.62" stroke="#111" stroke-width="1.4"/><rect x="516.36" y="137.52" width="153.7" height="118.55" fill="none" stroke="#4a4a4a" stroke-width="0.95"/><line x1="45.1" y1="373.91" x2="195.8" y2="373.91" stroke="#d2d2d2" stroke-width="0.9" stroke-dasharray="1 1.95" /><line x1="45.1" y1="346.9" x2="195.8" y2="346.9" stroke="#d2d2d2" stroke-width="0.9" stroke-dasharray="1 1.95" /><line x1="45.1" y1="319.9" x2="195.8" y2="319.9" stroke="#d2d2d2" stroke-width="0.9" stroke-dasharray="1 1.95" /><line x1="45.1" y1="292.89" x2="195.8" y2="292.89" stroke="#d2d2d2" stroke-width="0.9" stroke-dasharray="1 1.95" /><line x1="45.1" y1="265.89" x2="195.8" y2="265.89" stroke="#d2d2d2" stroke-width="0.9" stroke-dasharray="1 1.95" /><line x1="55.41" y1="290.07" x2="55.41" y2="296.85" stroke="#2a2a2a" stroke-width="0.85"/><line x1="55.41" y1="305.44" x2="55.41" y2="311.99" stroke="#2a2a2a" stroke-width="0.85"/><rect x="51.29" y="296.85" width="8.23" height="8.59" fill="#88CCEE" stroke="#1a1a1a" stroke-width="0.85"/><line x1="51.29" y1="302.5" x2="59.53" y2="302.5" stroke="#111" stroke-width="1.4"/><circle cx="55.41" cy="316.74" r="1.45" fill="#111"/><circle cx="55.41" cy="320.58" r="1.45" fill="#111"/><line x1="64.56" y1="277.64" x2="64.56" y2="284.87" stroke="#2a2a2a" stroke-width="0.85"/><line x1="64.56" y1="294.14" x2="64.56" y2="304.76" stroke="#2a2a2a" stroke-width="0.85"/><rect x="60.44" y="284.87" width="8.23" height="9.27" fill="#CC6677" stroke="#1a1a1a" stroke-width="0.85"/><line x1="60.44" y1="288.94" x2="68.67" y2="288.94" stroke="#111" stroke-width="1.4"/><circle cx="64.56" cy="307.47" r="1.45" fill="#111"/><line x1="73.71" y1="277.64" x2="73.71" y2="284.87" stroke="#2a2a2a" stroke-width="0.85"/><line x1="73.71" y1="294.14" x2="73.71" y2="304.76" stroke="#2a2a2a" stroke-width="0.85"/><rect x="69.59" y="284.87" width="8.23" height="9.27" fill="#DDCC77" stroke="#1a1a1a" stroke-width="0.85"/><line x1="69.59" y1="288.94" x2="77.82" y2="288.94" stroke="#111" stroke-width="1.4"/><circle cx="73.71" cy="307.47" r="1.45" fill="#111"/><line x1="92" y1="289.62" x2="92" y2="300.92" stroke="#2a2a2a" stroke-width="0.85"/><line x1="92" y1="311.99" x2="92" y2="322.84" stroke="#2a2a2a" stroke-width="0.85"/><rect x="87.89" y="300.92" width="8.23" height="11.07" fill="#88CCEE" stroke="#1a1a1a" stroke-width="0.85"/><line x1="87.89" y1="307.02" x2="96.12" y2="307.02" stroke="#111" stroke-width="1.4"/><line x1="101.15" y1="279.22" x2="101.15" y2="287.81" stroke="#2a2a2a" stroke-width="0.85"/><line x1="101.15" y1="297.98" x2="101.15" y2="307.47" stroke="#2a2a2a" stroke-width="0.85"/><rect x="97.04" y="287.81" width="8.23" height="10.17" fill="#CC6677" stroke="#1a1a1a" stroke-width="0.85"/><line x1="97.04" y1="291.65" x2="105.27" y2="291.65" stroke="#111" stroke-width="1.4"/><line x1="110.3" y1="279.22" x2="110.3" y2="287.81" stroke="#2a2a2a" stroke-width="0.85"/><line x1="110.3" y1="297.98" x2="110.3" y2="307.47" stroke="#2a2a2a" stroke-width="0.85"/><rect x="106.18" y="287.81" width="8.23" height="10.17" fill="#DDCC77" stroke="#1a1a1a" stroke-width="0.85"/><line x1="106.18" y1="291.65" x2="114.42" y2="291.65" stroke="#111" stroke-width="1.4"/><line x1="128.6" y1="298.66" x2="128.6" y2="308.15" stroke="#2a2a2a" stroke-width="0.85"/><line x1="128.6" y1="318.32" x2="128.6" y2="326.68" stroke="#2a2a2a" stroke-width="0.85"/><rect x="124.48" y="308.15" width="8.23" height="10.17" fill="#88CCEE" stroke="#1a1a1a" stroke-width="0.85"/><line x1="124.48" y1="312.67" x2="132.72" y2="312.67" stroke="#111" stroke-width="1.4"/><circle cx="128.6" cy="339.33" r="1.45" fill="#111"/><line x1="137.75" y1="278.77" x2="137.75" y2="288.94" stroke="#2a2a2a" stroke-width="0.85"/><line x1="137.75" y1="300.24" x2="137.75" y2="309.28" stroke="#2a2a2a" stroke-width="0.85"/><rect x="133.63" y="288.94" width="8.23" height="11.3" fill="#CC6677" stroke="#1a1a1a" stroke-width="0.85"/><line x1="133.63" y1="296.4" x2="141.86" y2="296.4" stroke="#111" stroke-width="1.4"/><circle cx="137.75" cy="328.49" r="1.45" fill="#111"/><line x1="146.9" y1="278.77" x2="146.9" y2="288.94" stroke="#2a2a2a" stroke-width="0.85"/><line x1="146.9" y1="300.24" x2="146.9" y2="309.28" stroke="#2a2a2a" stroke-width="0.85"/><rect x="142.78" y="288.94" width="8.23" height="11.3" fill="#DDCC77" stroke="#1a1a1a" stroke-width="0.85"/><line x1="142.78" y1="295.72" x2="151.01" y2="295.72" stroke="#111" stroke-width="1.4"/><circle cx="146.9" cy="328.49" r="1.45" fill="#111"/><line x1="165.19" y1="319" x2="165.19" y2="327.81" stroke="#2a2a2a" stroke-width="0.85"/><line x1="165.19" y1="335.27" x2="165.19" y2="343.85" stroke="#2a2a2a" stroke-width="0.85"/><rect x="161.08" y="327.81" width="8.23" height="7.46" fill="#88CCEE" stroke="#1a1a1a" stroke-width="0.85"/><line x1="161.08" y1="331.88" x2="169.31" y2="331.88" stroke="#111" stroke-width="1.4"/><circle cx="165.19" cy="300.24" r="1.45" fill="#111"/><circle cx="165.19" cy="346.57" r="1.45" fill="#111"/><circle cx="165.19" cy="347.7" r="1.45" fill="#111"/><circle cx="165.19" cy="351.54" r="1.45" fill="#111"/><circle cx="165.19" cy="359.45" r="1.45" fill="#111"/><line x1="174.34" y1="292.33" x2="174.34" y2="305.89" stroke="#2a2a2a" stroke-width="0.85"/><line x1="174.34" y1="318.77" x2="174.34" y2="332.56" stroke="#2a2a2a" stroke-width="0.85"/><rect x="170.23" y="305.89" width="8.23" height="12.88" fill="#CC6677" stroke="#1a1a1a" stroke-width="0.85"/><line x1="170.23" y1="312.22" x2="178.46" y2="312.22" stroke="#111" stroke-width="1.4"/><circle cx="174.34" cy="283.74" r="1.45" fill="#111"/><circle cx="174.34" cy="347.24" r="1.45" fill="#111"/><circle cx="174.34" cy="352.67" r="1.45" fill="#111"/><line x1="183.49" y1="292.33" x2="183.49" y2="305.89" stroke="#2a2a2a" stroke-width="0.85"/><line x1="183.49" y1="318.77" x2="183.49" y2="332.56" stroke="#2a2a2a" stroke-width="0.85"/><rect x="179.37" y="305.89" width="8.23" height="12.88" fill="#DDCC77" stroke="#1a1a1a" stroke-width="0.85"/><line x1="179.37" y1="312.22" x2="187.61" y2="312.22" stroke="#111" stroke-width="1.4"/><circle cx="183.49" cy="283.74" r="1.45" fill="#111"/><circle cx="183.49" cy="347.24" r="1.45" fill="#111"/><circle cx="183.49" cy="352.67" r="1.45" fill="#111"/><rect x="42.6" y="260.29" width="153.7" height="118.55" fill="none" stroke="#4a4a4a" stroke-width="0.95"/><line x1="203.02" y1="373.91" x2="353.72" y2="373.91" stroke="#d2d2d2" stroke-width="0.9" stroke-dasharray="1 1.95" /><line x1="203.02" y1="346.9" x2="353.72" y2="346.9" stroke="#d2d2d2" stroke-width="0.9" stroke-dasharray="1 1.95" /><line x1="203.02" y1="319.9" x2="353.72" y2="319.9" stroke="#d2d2d2" stroke-width="0.9" stroke-dasharray="1 1.95" /><line x1="203.02" y1="292.89" x2="353.72" y2="292.89" stroke="#d2d2d2" stroke-width="0.9" stroke-dasharray="1 1.95" /><line x1="203.02" y1="265.89" x2="353.72" y2="265.89" stroke="#d2d2d2" stroke-width="0.9" stroke-dasharray="1 1.95" /><line x1="217.33" y1="307.02" x2="217.33" y2="316.06" stroke="#2a2a2a" stroke-width="0.85"/><line x1="217.33" y1="333.68" x2="217.33" y2="348.83" stroke="#2a2a2a" stroke-width="0.85"/><rect x="211.93" y="316.06" width="10.81" height="17.63" fill="#88CCEE" stroke="#1a1a1a" stroke-width="0.85"/><line x1="211.93" y1="326.23" x2="222.73" y2="326.23" stroke="#111" stroke-width="1.4"/><circle cx="217.33" cy="365.32" r="1.45" fill="#111"/><line x1="229.34" y1="287.81" x2="229.34" y2="298.43" stroke="#2a2a2a" stroke-width="0.85"/><line x1="229.34" y1="317.64" x2="229.34" y2="339.11" stroke="#2a2a2a" stroke-width="0.85"/><rect x="223.94" y="298.43" width="10.81" height="19.21" fill="#CC6677" stroke="#1a1a1a" stroke-width="0.85"/><line x1="223.94" y1="307.02" x2="234.74" y2="307.02" stroke="#111" stroke-width="1.4"/><circle cx="229.34" cy="356.28" r="1.45" fill="#111"/><circle cx="229.34" cy="363.06" r="1.45" fill="#111"/><line x1="241.35" y1="287.81" x2="241.35" y2="298.43" stroke="#2a2a2a" stroke-width="0.85"/><line x1="241.35" y1="317.64" x2="241.35" y2="339.11" stroke="#2a2a2a" stroke-width="0.85"/><rect x="235.94" y="298.43" width="10.81" height="19.21" fill="#DDCC77" stroke="#1a1a1a" stroke-width="0.85"/><line x1="235.94" y1="306.57" x2="246.75" y2="306.57" stroke="#111" stroke-width="1.4"/><circle cx="241.35" cy="357.87" r="1.45" fill="#111"/><circle cx="241.35" cy="362.61" r="1.45" fill="#111"/><line x1="265.36" y1="298.66" x2="265.36" y2="308.15" stroke="#2a2a2a" stroke-width="0.85"/><line x1="265.36" y1="318.32" x2="265.36" y2="326.68" stroke="#2a2a2a" stroke-width="0.85"/><rect x="259.96" y="308.15" width="10.81" height="10.17" fill="#88CCEE" stroke="#1a1a1a" stroke-width="0.85"/><line x1="259.96" y1="312.67" x2="270.77" y2="312.67" stroke="#111" stroke-width="1.4"/><circle cx="265.36" cy="339.33" r="1.45" fill="#111"/><line x1="277.37" y1="278.77" x2="277.37" y2="288.94" stroke="#2a2a2a" stroke-width="0.85"/><line x1="277.37" y1="300.24" x2="277.37" y2="309.28" stroke="#2a2a2a" stroke-width="0.85"/><rect x="271.97" y="288.94" width="10.81" height="11.3" fill="#CC6677" stroke="#1a1a1a" stroke-width="0.85"/><line x1="271.97" y1="296.4" x2="282.77" y2="296.4" stroke="#111" stroke-width="1.4"/><circle cx="277.37" cy="328.49" r="1.45" fill="#111"/><line x1="289.38" y1="278.77" x2="289.38" y2="288.94" stroke="#2a2a2a" stroke-width="0.85"/><line x1="289.38" y1="300.24" x2="289.38" y2="309.28" stroke="#2a2a2a" stroke-width="0.85"/><rect x="283.97" y="288.94" width="10.81" height="11.3" fill="#DDCC77" stroke="#1a1a1a" stroke-width="0.85"/><line x1="283.97" y1="295.72" x2="294.78" y2="295.72" stroke="#111" stroke-width="1.4"/><circle cx="289.38" cy="328.49" r="1.45" fill="#111"/><line x1="313.39" y1="301.37" x2="313.39" y2="309.73" stroke="#2a2a2a" stroke-width="0.85"/><line x1="313.39" y1="322.84" x2="313.39" y2="334.14" stroke="#2a2a2a" stroke-width="0.85"/><rect x="307.99" y="309.73" width="10.81" height="13.11" fill="#88CCEE" stroke="#1a1a1a" stroke-width="0.85"/><line x1="307.99" y1="313.8" x2="318.8" y2="313.8" stroke="#111" stroke-width="1.4"/><line x1="325.4" y1="282.16" x2="325.4" y2="291.2" stroke="#2a2a2a" stroke-width="0.85"/><line x1="325.4" y1="304.76" x2="325.4" y2="317.19" stroke="#2a2a2a" stroke-width="0.85"/><rect x="320" y="291.2" width="10.81" height="13.56" fill="#CC6677" stroke="#1a1a1a" stroke-width="0.85"/><line x1="320" y1="296.17" x2="330.8" y2="296.17" stroke="#111" stroke-width="1.4"/><line x1="337.41" y1="282.16" x2="337.41" y2="291.2" stroke="#2a2a2a" stroke-width="0.85"/><line x1="337.41" y1="304.76" x2="337.41" y2="317.19" stroke="#2a2a2a" stroke-width="0.85"/><rect x="332.01" y="291.2" width="10.81" height="13.56" fill="#DDCC77" stroke="#1a1a1a" stroke-width="0.85"/><line x1="332.01" y1="296.17" x2="342.81" y2="296.17" stroke="#111" stroke-width="1.4"/><rect x="200.52" y="260.29" width="153.7" height="118.55" fill="none" stroke="#4a4a4a" stroke-width="0.95"/><line x1="360.94" y1="373.91" x2="511.64" y2="373.91" stroke="#d2d2d2" stroke-width="0.9" stroke-dasharray="1 1.95" /><line x1="360.94" y1="346.9" x2="511.64" y2="346.9" stroke="#d2d2d2" stroke-width="0.9" stroke-dasharray="1 1.95" /><line x1="360.94" y1="319.9" x2="511.64" y2="319.9" stroke="#d2d2d2" stroke-width="0.9" stroke-dasharray="1 1.95" /><line x1="360.94" y1="292.89" x2="511.64" y2="292.89" stroke="#d2d2d2" stroke-width="0.9" stroke-dasharray="1 1.95" /><line x1="360.94" y1="265.89" x2="511.64" y2="265.89" stroke="#d2d2d2" stroke-width="0.9" stroke-dasharray="1 1.95" /><line x1="375.25" y1="324.65" x2="375.25" y2="341.59" stroke="#2a2a2a" stroke-width="0.85"/><line x1="375.25" y1="357.19" x2="375.25" y2="369.62" stroke="#2a2a2a" stroke-width="0.85"/><rect x="369.85" y="341.59" width="10.81" height="15.59" fill="#88CCEE" stroke="#1a1a1a" stroke-width="0.85"/><line x1="369.85" y1="347.7" x2="380.65" y2="347.7" stroke="#111" stroke-width="1.4"/><line x1="387.26" y1="302.95" x2="387.26" y2="321.03" stroke="#2a2a2a" stroke-width="0.85"/><line x1="387.26" y1="351.09" x2="387.26" y2="372.55" stroke="#2a2a2a" stroke-width="0.85"/><rect x="381.86" y="321.03" width="10.81" height="30.06" fill="#CC6677" stroke="#1a1a1a" stroke-width="0.85"/><line x1="381.86" y1="332.1" x2="392.66" y2="332.1" stroke="#111" stroke-width="1.4"/><line x1="399.27" y1="302.95" x2="399.27" y2="320.35" stroke="#2a2a2a" stroke-width="0.85"/><line x1="399.27" y1="351.09" x2="399.27" y2="372.55" stroke="#2a2a2a" stroke-width="0.85"/><rect x="393.86" y="320.35" width="10.81" height="30.73" fill="#DDCC77" stroke="#1a1a1a" stroke-width="0.85"/><line x1="393.86" y1="332.1" x2="404.67" y2="332.1" stroke="#111" stroke-width="1.4"/><line x1="423.28" y1="298.66" x2="423.28" y2="308.15" stroke="#2a2a2a" stroke-width="0.85"/><line x1="423.28" y1="318.32" x2="423.28" y2="326.68" stroke="#2a2a2a" stroke-width="0.85"/><rect x="417.88" y="308.15" width="10.81" height="10.17" fill="#88CCEE" stroke="#1a1a1a" stroke-width="0.85"/><line x1="417.88" y1="312.67" x2="428.69" y2="312.67" stroke="#111" stroke-width="1.4"/><circle cx="423.28" cy="339.33" r="1.45" fill="#111"/><line x1="435.29" y1="278.77" x2="435.29" y2="288.94" stroke="#2a2a2a" stroke-width="0.85"/><line x1="435.29" y1="300.24" x2="435.29" y2="309.28" stroke="#2a2a2a" stroke-width="0.85"/><rect x="429.89" y="288.94" width="10.81" height="11.3" fill="#CC6677" stroke="#1a1a1a" stroke-width="0.85"/><line x1="429.89" y1="296.4" x2="440.69" y2="296.4" stroke="#111" stroke-width="1.4"/><circle cx="435.29" cy="328.49" r="1.45" fill="#111"/><line x1="447.3" y1="278.77" x2="447.3" y2="288.94" stroke="#2a2a2a" stroke-width="0.85"/><line x1="447.3" y1="300.24" x2="447.3" y2="309.28" stroke="#2a2a2a" stroke-width="0.85"/><rect x="441.89" y="288.94" width="10.81" height="11.3" fill="#DDCC77" stroke="#1a1a1a" stroke-width="0.85"/><line x1="441.89" y1="295.72" x2="452.7" y2="295.72" stroke="#111" stroke-width="1.4"/><circle cx="447.3" cy="328.49" r="1.45" fill="#111"/><line x1="471.31" y1="276.96" x2="471.31" y2="283.29" stroke="#2a2a2a" stroke-width="0.85"/><line x1="471.31" y1="291.88" x2="471.31" y2="299.11" stroke="#2a2a2a" stroke-width="0.85"/><rect x="465.91" y="283.29" width="10.81" height="8.59" fill="#88CCEE" stroke="#1a1a1a" stroke-width="0.85"/><line x1="465.91" y1="287.13" x2="476.72" y2="287.13" stroke="#111" stroke-width="1.4"/><circle cx="471.31" cy="304.99" r="1.45" fill="#111"/><line x1="483.32" y1="271.31" x2="483.32" y2="276.96" stroke="#2a2a2a" stroke-width="0.85"/><line x1="483.32" y1="283.29" x2="483.32" y2="288.94" stroke="#2a2a2a" stroke-width="0.85"/><rect x="477.92" y="276.96" width="10.81" height="6.33" fill="#CC6677" stroke="#1a1a1a" stroke-width="0.85"/><line x1="477.92" y1="279.9" x2="488.72" y2="279.9" stroke="#111" stroke-width="1.4"/><circle cx="483.32" cy="293.46" r="1.45" fill="#111"/><line x1="495.33" y1="271.31" x2="495.33" y2="276.96" stroke="#2a2a2a" stroke-width="0.85"/><line x1="495.33" y1="283.29" x2="495.33" y2="288.94" stroke="#2a2a2a" stroke-width="0.85"/><rect x="489.93" y="276.96" width="10.81" height="6.33" fill="#DDCC77" stroke="#1a1a1a" stroke-width="0.85"/><line x1="489.93" y1="280.35" x2="500.73" y2="280.35" stroke="#111" stroke-width="1.4"/><circle cx="495.33" cy="293.46" r="1.45" fill="#111"/><rect x="358.44" y="260.29" width="153.7" height="118.55" fill="none" stroke="#4a4a4a" stroke-width="0.95"/><line x1="518.86" y1="373.91" x2="669.56" y2="373.91" stroke="#d2d2d2" stroke-width="0.9" stroke-dasharray="1 1.95" /><line x1="518.86" y1="346.9" x2="669.56" y2="346.9" stroke="#d2d2d2" stroke-width="0.9" stroke-dasharray="1 1.95" /><line x1="518.86" y1="319.9" x2="669.56" y2="319.9" stroke="#d2d2d2" stroke-width="0.9" stroke-dasharray="1 1.95" /><line x1="518.86" y1="292.89" x2="669.56" y2="292.89" stroke="#d2d2d2" stroke-width="0.9" stroke-dasharray="1 1.95" /><line x1="518.86" y1="265.89" x2="669.56" y2="265.89" stroke="#d2d2d2" stroke-width="0.9" stroke-dasharray="1 1.95" /><line x1="529.17" y1="298.66" x2="529.17" y2="308.15" stroke="#2a2a2a" stroke-width="0.85"/><line x1="529.17" y1="318.32" x2="529.17" y2="326.68" stroke="#2a2a2a" stroke-width="0.85"/><rect x="525.05" y="308.15" width="8.23" height="10.17" fill="#88CCEE" stroke="#1a1a1a" stroke-width="0.85"/><line x1="525.05" y1="312.67" x2="533.29" y2="312.67" stroke="#111" stroke-width="1.4"/><circle cx="529.17" cy="339.33" r="1.45" fill="#111"/><line x1="538.32" y1="278.77" x2="538.32" y2="288.94" stroke="#2a2a2a" stroke-width="0.85"/><line x1="538.32" y1="300.24" x2="538.32" y2="309.28" stroke="#2a2a2a" stroke-width="0.85"/><rect x="534.2" y="288.94" width="8.23" height="11.3" fill="#CC6677" stroke="#1a1a1a" stroke-width="0.85"/><line x1="534.2" y1="296.4" x2="542.43" y2="296.4" stroke="#111" stroke-width="1.4"/><circle cx="538.32" cy="328.49" r="1.45" fill="#111"/><line x1="547.47" y1="278.77" x2="547.47" y2="288.94" stroke="#2a2a2a" stroke-width="0.85"/><line x1="547.47" y1="300.24" x2="547.47" y2="309.28" stroke="#2a2a2a" stroke-width="0.85"/><rect x="543.35" y="288.94" width="8.23" height="11.3" fill="#DDCC77" stroke="#1a1a1a" stroke-width="0.85"/><line x1="543.35" y1="295.72" x2="551.58" y2="295.72" stroke="#111" stroke-width="1.4"/><circle cx="547.47" cy="328.49" r="1.45" fill="#111"/><line x1="565.76" y1="303.63" x2="565.76" y2="321.71" stroke="#2a2a2a" stroke-width="0.85"/><line x1="565.76" y1="334.81" x2="565.76" y2="347.24" stroke="#2a2a2a" stroke-width="0.85"/><rect x="561.65" y="321.71" width="8.23" height="13.11" fill="#88CCEE" stroke="#1a1a1a" stroke-width="0.85"/><line x1="561.65" y1="328.49" x2="569.88" y2="328.49" stroke="#111" stroke-width="1.4"/><line x1="574.91" y1="285.55" x2="574.91" y2="298.66" stroke="#2a2a2a" stroke-width="0.85"/><line x1="574.91" y1="317.19" x2="574.91" y2="332.33" stroke="#2a2a2a" stroke-width="0.85"/><rect x="570.8" y="298.66" width="8.23" height="18.53" fill="#CC6677" stroke="#1a1a1a" stroke-width="0.85"/><line x1="570.8" y1="305.89" x2="579.03" y2="305.89" stroke="#111" stroke-width="1.4"/><line x1="584.06" y1="285.55" x2="584.06" y2="298.43" stroke="#2a2a2a" stroke-width="0.85"/><line x1="584.06" y1="317.19" x2="584.06" y2="332.33" stroke="#2a2a2a" stroke-width="0.85"/><rect x="579.94" y="298.43" width="8.23" height="18.76" fill="#DDCC77" stroke="#1a1a1a" stroke-width="0.85"/><line x1="579.94" y1="305.89" x2="588.18" y2="305.89" stroke="#111" stroke-width="1.4"/><line x1="602.36" y1="320.58" x2="602.36" y2="328.49" stroke="#2a2a2a" stroke-width="0.85"/><line x1="602.36" y1="339.79" x2="602.36" y2="352.89" stroke="#2a2a2a" stroke-width="0.85"/><rect x="598.24" y="328.49" width="8.23" height="11.3" fill="#88CCEE" stroke="#1a1a1a" stroke-width="0.85"/><line x1="598.24" y1="332.56" x2="606.48" y2="332.56" stroke="#111" stroke-width="1.4"/><line x1="611.51" y1="288.94" x2="611.51" y2="301.37" stroke="#2a2a2a" stroke-width="0.85"/><line x1="611.51" y1="321.03" x2="611.51" y2="343.18" stroke="#2a2a2a" stroke-width="0.85"/><rect x="607.39" y="301.37" width="8.23" height="19.66" fill="#CC6677" stroke="#1a1a1a" stroke-width="0.85"/><line x1="607.39" y1="307.02" x2="615.62" y2="307.02" stroke="#111" stroke-width="1.4"/><circle cx="611.51" cy="355.15" r="1.45" fill="#111"/><line x1="620.66" y1="288.94" x2="620.66" y2="301.37" stroke="#2a2a2a" stroke-width="0.85"/><line x1="620.66" y1="321.03" x2="620.66" y2="343.18" stroke="#2a2a2a" stroke-width="0.85"/><rect x="616.54" y="301.37" width="8.23" height="19.66" fill="#DDCC77" stroke="#1a1a1a" stroke-width="0.85"/><line x1="616.54" y1="307.02" x2="624.77" y2="307.02" stroke="#111" stroke-width="1.4"/><circle cx="620.66" cy="355.15" r="1.45" fill="#111"/><line x1="638.95" y1="332.56" x2="638.95" y2="342.72" stroke="#2a2a2a" stroke-width="0.85"/><line x1="638.95" y1="351.76" x2="638.95" y2="360.13" stroke="#2a2a2a" stroke-width="0.85"/><rect x="634.84" y="342.72" width="8.23" height="9.04" fill="#88CCEE" stroke="#1a1a1a" stroke-width="0.85"/><line x1="634.84" y1="346.57" x2="643.07" y2="346.57" stroke="#111" stroke-width="1.4"/><circle cx="638.95" cy="321.71" r="1.45" fill="#111"/><circle cx="638.95" cy="324.65" r="1.45" fill="#111"/><line x1="648.1" y1="288.94" x2="648.1" y2="314.93" stroke="#2a2a2a" stroke-width="0.85"/><line x1="648.1" y1="331.88" x2="648.1" y2="356.74" stroke="#2a2a2a" stroke-width="0.85"/><rect x="643.99" y="314.93" width="8.23" height="16.95" fill="#CC6677" stroke="#1a1a1a" stroke-width="0.85"/><line x1="643.99" y1="323.97" x2="652.22" y2="323.97" stroke="#111" stroke-width="1.4"/><line x1="657.25" y1="288.94" x2="657.25" y2="314.48" stroke="#2a2a2a" stroke-width="0.85"/><line x1="657.25" y1="331.88" x2="657.25" y2="355.61" stroke="#2a2a2a" stroke-width="0.85"/><rect x="653.13" y="314.48" width="8.23" height="17.4" fill="#DDCC77" stroke="#1a1a1a" stroke-width="0.85"/><line x1="653.13" y1="323.29" x2="661.37" y2="323.29" stroke="#111" stroke-width="1.4"/><rect x="516.36" y="260.29" width="153.7" height="118.55" fill="none" stroke="#4a4a4a" stroke-width="0.95"/><line x1="45.1" y1="496.68" x2="195.8" y2="496.68" stroke="#d2d2d2" stroke-width="0.9" stroke-dasharray="1 1.95" /><line x1="45.1" y1="469.68" x2="195.8" y2="469.68" stroke="#d2d2d2" stroke-width="0.9" stroke-dasharray="1 1.95" /><line x1="45.1" y1="442.67" x2="195.8" y2="442.67" stroke="#d2d2d2" stroke-width="0.9" stroke-dasharray="1 1.95" /><line x1="45.1" y1="415.67" x2="195.8" y2="415.67" stroke="#d2d2d2" stroke-width="0.9" stroke-dasharray="1 1.95" /><line x1="45.1" y1="388.66" x2="195.8" y2="388.66" stroke="#d2d2d2" stroke-width="0.9" stroke-dasharray="1 1.95" /><line x1="55.41" y1="413.52" x2="55.41" y2="422.33" stroke="#2a2a2a" stroke-width="0.85"/><line x1="55.41" y1="433.18" x2="55.41" y2="443.35" stroke="#2a2a2a" stroke-width="0.85"/><rect x="51.29" y="422.33" width="8.23" height="10.85" fill="#88CCEE" stroke="#1a1a1a" stroke-width="0.85"/><line x1="51.29" y1="427.53" x2="59.53" y2="427.53" stroke="#111" stroke-width="1.4"/><circle cx="55.41" cy="450.58" r="1.45" fill="#111"/><line x1="64.56" y1="401.99" x2="64.56" y2="408.77" stroke="#2a2a2a" stroke-width="0.85"/><line x1="64.56" y1="416.91" x2="64.56" y2="428.66" stroke="#2a2a2a" stroke-width="0.85"/><rect x="60.44" y="408.77" width="8.23" height="8.14" fill="#CC6677" stroke="#1a1a1a" stroke-width="0.85"/><line x1="60.44" y1="412.39" x2="68.67" y2="412.39" stroke="#111" stroke-width="1.4"/><circle cx="64.56" cy="431.37" r="1.45" fill="#111"/><circle cx="64.56" cy="433.63" r="1.45" fill="#111"/><line x1="73.71" y1="401.54" x2="73.71" y2="408.32" stroke="#2a2a2a" stroke-width="0.85"/><line x1="73.71" y1="416.91" x2="73.71" y2="428.66" stroke="#2a2a2a" stroke-width="0.85"/><rect x="69.59" y="408.32" width="8.23" height="8.59" fill="#DDCC77" stroke="#1a1a1a" stroke-width="0.85"/><line x1="69.59" y1="411.71" x2="77.82" y2="411.71" stroke="#111" stroke-width="1.4"/><circle cx="73.71" cy="431.37" r="1.45" fill="#111"/><circle cx="73.71" cy="433.63" r="1.45" fill="#111"/><line x1="92" y1="399.28" x2="92" y2="406.06" stroke="#2a2a2a" stroke-width="0.85"/><line x1="92" y1="413.97" x2="92" y2="424.82" stroke="#2a2a2a" stroke-width="0.85"/><rect x="87.89" y="406.06" width="8.23" height="7.91" fill="#88CCEE" stroke="#1a1a1a" stroke-width="0.85"/><line x1="87.89" y1="409.9" x2="96.12" y2="409.9" stroke="#111" stroke-width="1.4"/><line x1="101.15" y1="394.08" x2="101.15" y2="398.83" stroke="#2a2a2a" stroke-width="0.85"/><line x1="101.15" y1="404.93" x2="101.15" y2="410.13" stroke="#2a2a2a" stroke-width="0.85"/><rect x="97.04" y="398.83" width="8.23" height="6.1" fill="#CC6677" stroke="#1a1a1a" stroke-width="0.85"/><line x1="97.04" y1="401.54" x2="105.27" y2="401.54" stroke="#111" stroke-width="1.4"/><circle cx="101.15" cy="418.72" r="1.45" fill="#111"/><line x1="110.3" y1="394.08" x2="110.3" y2="398.6" stroke="#2a2a2a" stroke-width="0.85"/><line x1="110.3" y1="404.93" x2="110.3" y2="410.13" stroke="#2a2a2a" stroke-width="0.85"/><rect x="106.18" y="398.6" width="8.23" height="6.33" fill="#DDCC77" stroke="#1a1a1a" stroke-width="0.85"/><line x1="106.18" y1="401.09" x2="114.42" y2="401.09" stroke="#111" stroke-width="1.4"/><circle cx="110.3" cy="418.72" r="1.45" fill="#111"/><line x1="128.6" y1="395.21" x2="128.6" y2="398.6" stroke="#2a2a2a" stroke-width="0.85"/><line x1="128.6" y1="403.12" x2="128.6" y2="406.74" stroke="#2a2a2a" stroke-width="0.85"/><rect x="124.48" y="398.6" width="8.23" height="4.52" fill="#88CCEE" stroke="#1a1a1a" stroke-width="0.85"/><line x1="124.48" y1="400.41" x2="132.72" y2="400.41" stroke="#111" stroke-width="1.4"/><circle cx="128.6" cy="409.45" r="1.45" fill="#111"/><line x1="137.75" y1="392.95" x2="137.75" y2="394.76" stroke="#2a2a2a" stroke-width="0.85"/><line x1="137.75" y1="397.7" x2="137.75" y2="401.54" stroke="#2a2a2a" stroke-width="0.85"/><rect x="133.63" y="394.76" width="8.23" height="2.94" fill="#CC6677" stroke="#1a1a1a" stroke-width="0.85"/><line x1="133.63" y1="395.89" x2="141.86" y2="395.89" stroke="#111" stroke-width="1.4"/><line x1="146.9" y1="392.95" x2="146.9" y2="394.76" stroke="#2a2a2a" stroke-width="0.85"/><line x1="146.9" y1="397.7" x2="146.9" y2="400.41" stroke="#2a2a2a" stroke-width="0.85"/><rect x="142.78" y="394.76" width="8.23" height="2.94" fill="#DDCC77" stroke="#1a1a1a" stroke-width="0.85"/><line x1="142.78" y1="396.12" x2="151.01" y2="396.12" stroke="#111" stroke-width="1.4"/><circle cx="146.9" cy="402.22" r="1.45" fill="#111"/><line x1="165.19" y1="392.95" x2="165.19" y2="396.34" stroke="#2a2a2a" stroke-width="0.85"/><line x1="165.19" y1="399.73" x2="165.19" y2="401.54" stroke="#2a2a2a" stroke-width="0.85"/><rect x="161.08" y="396.34" width="8.23" height="3.39" fill="#88CCEE" stroke="#1a1a1a" stroke-width="0.85"/><line x1="161.08" y1="397.7" x2="169.31" y2="397.7" stroke="#111" stroke-width="1.4"/><circle cx="165.19" cy="404.93" r="1.45" fill="#111"/><line x1="174.34" y1="391.82" x2="174.34" y2="392.95" stroke="#2a2a2a" stroke-width="0.85"/><line x1="174.34" y1="395.44" x2="174.34" y2="398.83" stroke="#2a2a2a" stroke-width="0.85"/><rect x="170.23" y="392.95" width="8.23" height="2.49" fill="#CC6677" stroke="#1a1a1a" stroke-width="0.85"/><line x1="170.23" y1="394.08" x2="178.46" y2="394.08" stroke="#111" stroke-width="1.4"/><line x1="183.49" y1="391.82" x2="183.49" y2="392.95" stroke="#2a2a2a" stroke-width="0.85"/><line x1="183.49" y1="395.89" x2="183.49" y2="398.83" stroke="#2a2a2a" stroke-width="0.85"/><rect x="179.37" y="392.95" width="8.23" height="2.94" fill="#DDCC77" stroke="#1a1a1a" stroke-width="0.85"/><line x1="179.37" y1="393.86" x2="187.61" y2="393.86" stroke="#111" stroke-width="1.4"/><rect x="42.6" y="383.06" width="153.7" height="118.55" fill="none" stroke="#4a4a4a" stroke-width="0.95"/><line x1="203.02" y1="496.68" x2="353.72" y2="496.68" stroke="#d2d2d2" stroke-width="0.9" stroke-dasharray="1 1.95" /><line x1="203.02" y1="469.68" x2="353.72" y2="469.68" stroke="#d2d2d2" stroke-width="0.9" stroke-dasharray="1 1.95" /><line x1="203.02" y1="442.67" x2="353.72" y2="442.67" stroke="#d2d2d2" stroke-width="0.9" stroke-dasharray="1 1.95" /><line x1="203.02" y1="415.67" x2="353.72" y2="415.67" stroke="#d2d2d2" stroke-width="0.9" stroke-dasharray="1 1.95" /><line x1="203.02" y1="388.66" x2="353.72" y2="388.66" stroke="#d2d2d2" stroke-width="0.9" stroke-dasharray="1 1.95" /><line x1="217.33" y1="395.21" x2="217.33" y2="398.6" stroke="#2a2a2a" stroke-width="0.85"/><line x1="217.33" y1="403.8" x2="217.33" y2="409.45" stroke="#2a2a2a" stroke-width="0.85"/><rect x="211.93" y="398.6" width="10.81" height="5.2" fill="#88CCEE" stroke="#1a1a1a" stroke-width="0.85"/><line x1="211.93" y1="401.09" x2="222.73" y2="401.09" stroke="#111" stroke-width="1.4"/><line x1="229.34" y1="392.5" x2="229.34" y2="394.31" stroke="#2a2a2a" stroke-width="0.85"/><line x1="229.34" y1="397.7" x2="229.34" y2="399.73" stroke="#2a2a2a" stroke-width="0.85"/><rect x="223.94" y="394.31" width="10.81" height="3.39" fill="#CC6677" stroke="#1a1a1a" stroke-width="0.85"/><line x1="223.94" y1="395.89" x2="234.74" y2="395.89" stroke="#111" stroke-width="1.4"/><line x1="241.35" y1="392.5" x2="241.35" y2="394.31" stroke="#2a2a2a" stroke-width="0.85"/><line x1="241.35" y1="397.7" x2="241.35" y2="399.73" stroke="#2a2a2a" stroke-width="0.85"/><rect x="235.94" y="394.31" width="10.81" height="3.39" fill="#DDCC77" stroke="#1a1a1a" stroke-width="0.85"/><line x1="235.94" y1="395.89" x2="246.75" y2="395.89" stroke="#111" stroke-width="1.4"/><line x1="265.36" y1="395.21" x2="265.36" y2="398.6" stroke="#2a2a2a" stroke-width="0.85"/><line x1="265.36" y1="403.12" x2="265.36" y2="406.74" stroke="#2a2a2a" stroke-width="0.85"/><rect x="259.96" y="398.6" width="10.81" height="4.52" fill="#88CCEE" stroke="#1a1a1a" stroke-width="0.85"/><line x1="259.96" y1="400.41" x2="270.77" y2="400.41" stroke="#111" stroke-width="1.4"/><circle cx="265.36" cy="409.45" r="1.45" fill="#111"/><line x1="277.37" y1="392.95" x2="277.37" y2="394.76" stroke="#2a2a2a" stroke-width="0.85"/><line x1="277.37" y1="397.7" x2="277.37" y2="401.54" stroke="#2a2a2a" stroke-width="0.85"/><rect x="271.97" y="394.76" width="10.81" height="2.94" fill="#CC6677" stroke="#1a1a1a" stroke-width="0.85"/><line x1="271.97" y1="395.89" x2="282.77" y2="395.89" stroke="#111" stroke-width="1.4"/><line x1="289.38" y1="392.95" x2="289.38" y2="394.76" stroke="#2a2a2a" stroke-width="0.85"/><line x1="289.38" y1="397.7" x2="289.38" y2="400.41" stroke="#2a2a2a" stroke-width="0.85"/><rect x="283.97" y="394.76" width="10.81" height="2.94" fill="#DDCC77" stroke="#1a1a1a" stroke-width="0.85"/><line x1="283.97" y1="396.12" x2="294.78" y2="396.12" stroke="#111" stroke-width="1.4"/><circle cx="289.38" cy="402.22" r="1.45" fill="#111"/><line x1="313.39" y1="392.95" x2="313.39" y2="398.6" stroke="#2a2a2a" stroke-width="0.85"/><line x1="313.39" y1="403.12" x2="313.39" y2="406.74" stroke="#2a2a2a" stroke-width="0.85"/><rect x="307.99" y="398.6" width="10.81" height="4.52" fill="#88CCEE" stroke="#1a1a1a" stroke-width="0.85"/><line x1="307.99" y1="400.41" x2="318.8" y2="400.41" stroke="#111" stroke-width="1.4"/><circle cx="313.39" cy="410.13" r="1.45" fill="#111"/><circle cx="313.39" cy="412.16" r="1.45" fill="#111"/><line x1="325.4" y1="391.37" x2="325.4" y2="394.08" stroke="#2a2a2a" stroke-width="0.85"/><line x1="325.4" y1="397.47" x2="325.4" y2="401.09" stroke="#2a2a2a" stroke-width="0.85"/><rect x="320" y="394.08" width="10.81" height="3.39" fill="#CC6677" stroke="#1a1a1a" stroke-width="0.85"/><line x1="320" y1="395.44" x2="330.8" y2="395.44" stroke="#111" stroke-width="1.4"/><circle cx="325.4" cy="402.67" r="1.45" fill="#111"/><line x1="337.41" y1="391.37" x2="337.41" y2="394.08" stroke="#2a2a2a" stroke-width="0.85"/><line x1="337.41" y1="397.47" x2="337.41" y2="401.09" stroke="#2a2a2a" stroke-width="0.85"/><rect x="332.01" y="394.08" width="10.81" height="3.39" fill="#DDCC77" stroke="#1a1a1a" stroke-width="0.85"/><line x1="332.01" y1="395.44" x2="342.81" y2="395.44" stroke="#111" stroke-width="1.4"/><circle cx="337.41" cy="402.44" r="1.45" fill="#111"/><rect x="200.52" y="383.06" width="153.7" height="118.55" fill="none" stroke="#4a4a4a" stroke-width="0.95"/><line x1="360.94" y1="496.68" x2="511.64" y2="496.68" stroke="#d2d2d2" stroke-width="0.9" stroke-dasharray="1 1.95" /><line x1="360.94" y1="469.68" x2="511.64" y2="469.68" stroke="#d2d2d2" stroke-width="0.9" stroke-dasharray="1 1.95" /><line x1="360.94" y1="442.67" x2="511.64" y2="442.67" stroke="#d2d2d2" stroke-width="0.9" stroke-dasharray="1 1.95" /><line x1="360.94" y1="415.67" x2="511.64" y2="415.67" stroke="#d2d2d2" stroke-width="0.9" stroke-dasharray="1 1.95" /><line x1="360.94" y1="388.66" x2="511.64" y2="388.66" stroke="#d2d2d2" stroke-width="0.9" stroke-dasharray="1 1.95" /><line x1="375.25" y1="417.36" x2="375.25" y2="437.25" stroke="#2a2a2a" stroke-width="0.85"/><line x1="375.25" y1="466.62" x2="375.25" y2="494.87" stroke="#2a2a2a" stroke-width="0.85"/><rect x="369.85" y="437.25" width="10.81" height="29.38" fill="#88CCEE" stroke="#1a1a1a" stroke-width="0.85"/><line x1="369.85" y1="453.97" x2="380.65" y2="453.97" stroke="#111" stroke-width="1.4"/><line x1="387.26" y1="399.73" x2="387.26" y2="411.03" stroke="#2a2a2a" stroke-width="0.85"/><line x1="387.26" y1="436.57" x2="387.26" y2="470.01" stroke="#2a2a2a" stroke-width="0.85"/><rect x="381.86" y="411.03" width="10.81" height="25.54" fill="#CC6677" stroke="#1a1a1a" stroke-width="0.85"/><line x1="381.86" y1="422.33" x2="392.66" y2="422.33" stroke="#111" stroke-width="1.4"/><circle cx="387.26" cy="496" r="1.45" fill="#111"/><line x1="399.27" y1="400.86" x2="399.27" y2="409.9" stroke="#2a2a2a" stroke-width="0.85"/><line x1="399.27" y1="434.99" x2="399.27" y2="467.75" stroke="#2a2a2a" stroke-width="0.85"/><rect x="393.86" y="409.9" width="10.81" height="25.08" fill="#DDCC77" stroke="#1a1a1a" stroke-width="0.85"/><line x1="393.86" y1="422.33" x2="404.67" y2="422.33" stroke="#111" stroke-width="1.4"/><circle cx="399.27" cy="496" r="1.45" fill="#111"/><line x1="423.28" y1="395.21" x2="423.28" y2="398.6" stroke="#2a2a2a" stroke-width="0.85"/><line x1="423.28" y1="403.12" x2="423.28" y2="406.74" stroke="#2a2a2a" stroke-width="0.85"/><rect x="417.88" y="398.6" width="10.81" height="4.52" fill="#88CCEE" stroke="#1a1a1a" stroke-width="0.85"/><line x1="417.88" y1="400.41" x2="428.69" y2="400.41" stroke="#111" stroke-width="1.4"/><circle cx="423.28" cy="409.45" r="1.45" fill="#111"/><line x1="435.29" y1="392.95" x2="435.29" y2="394.76" stroke="#2a2a2a" stroke-width="0.85"/><line x1="435.29" y1="397.7" x2="435.29" y2="401.54" stroke="#2a2a2a" stroke-width="0.85"/><rect x="429.89" y="394.76" width="10.81" height="2.94" fill="#CC6677" stroke="#1a1a1a" stroke-width="0.85"/><line x1="429.89" y1="395.89" x2="440.69" y2="395.89" stroke="#111" stroke-width="1.4"/><line x1="447.3" y1="392.95" x2="447.3" y2="394.76" stroke="#2a2a2a" stroke-width="0.85"/><line x1="447.3" y1="397.7" x2="447.3" y2="400.41" stroke="#2a2a2a" stroke-width="0.85"/><rect x="441.89" y="394.76" width="10.81" height="2.94" fill="#DDCC77" stroke="#1a1a1a" stroke-width="0.85"/><line x1="441.89" y1="396.12" x2="452.7" y2="396.12" stroke="#111" stroke-width="1.4"/><circle cx="447.3" cy="402.22" r="1.45" fill="#111"/><line x1="471.31" y1="390.92" x2="471.31" y2="391.37" stroke="#2a2a2a" stroke-width="0.85"/><line x1="471.31" y1="392.95" x2="471.31" y2="394.08" stroke="#2a2a2a" stroke-width="0.85"/><rect x="465.91" y="391.37" width="10.81" height="1.58" fill="#88CCEE" stroke="#1a1a1a" stroke-width="0.85"/><line x1="465.91" y1="392.05" x2="476.72" y2="392.05" stroke="#111" stroke-width="1.4"/><line x1="483.32" y1="390.24" x2="483.32" y2="390.47" stroke="#2a2a2a" stroke-width="0.85"/><line x1="483.32" y1="391.6" x2="483.32" y2="392.5" stroke="#2a2a2a" stroke-width="0.85"/><rect x="477.92" y="390.47" width="10.81" height="1.13" fill="#CC6677" stroke="#1a1a1a" stroke-width="0.85"/><line x1="477.92" y1="390.92" x2="488.72" y2="390.92" stroke="#111" stroke-width="1.4"/><circle cx="483.32" cy="393.63" r="1.45" fill="#111"/><line x1="495.33" y1="390.24" x2="495.33" y2="390.47" stroke="#2a2a2a" stroke-width="0.85"/><line x1="495.33" y1="391.6" x2="495.33" y2="392.5" stroke="#2a2a2a" stroke-width="0.85"/><rect x="489.93" y="390.47" width="10.81" height="1.13" fill="#DDCC77" stroke="#1a1a1a" stroke-width="0.85"/><line x1="489.93" y1="390.92" x2="500.73" y2="390.92" stroke="#111" stroke-width="1.4"/><circle cx="495.33" cy="393.63" r="1.45" fill="#111"/><rect x="358.44" y="383.06" width="153.7" height="118.55" fill="none" stroke="#4a4a4a" stroke-width="0.95"/><line x1="518.86" y1="496.68" x2="669.56" y2="496.68" stroke="#d2d2d2" stroke-width="0.9" stroke-dasharray="1 1.95" /><line x1="518.86" y1="469.68" x2="669.56" y2="469.68" stroke="#d2d2d2" stroke-width="0.9" stroke-dasharray="1 1.95" /><line x1="518.86" y1="442.67" x2="669.56" y2="442.67" stroke="#d2d2d2" stroke-width="0.9" stroke-dasharray="1 1.95" /><line x1="518.86" y1="415.67" x2="669.56" y2="415.67" stroke="#d2d2d2" stroke-width="0.9" stroke-dasharray="1 1.95" /><line x1="518.86" y1="388.66" x2="669.56" y2="388.66" stroke="#d2d2d2" stroke-width="0.9" stroke-dasharray="1 1.95" /><line x1="529.17" y1="395.21" x2="529.17" y2="398.6" stroke="#2a2a2a" stroke-width="0.85"/><line x1="529.17" y1="403.12" x2="529.17" y2="406.74" stroke="#2a2a2a" stroke-width="0.85"/><rect x="525.05" y="398.6" width="8.23" height="4.52" fill="#88CCEE" stroke="#1a1a1a" stroke-width="0.85"/><line x1="525.05" y1="400.41" x2="533.29" y2="400.41" stroke="#111" stroke-width="1.4"/><circle cx="529.17" cy="409.45" r="1.45" fill="#111"/><line x1="538.32" y1="392.95" x2="538.32" y2="394.76" stroke="#2a2a2a" stroke-width="0.85"/><line x1="538.32" y1="397.7" x2="538.32" y2="401.54" stroke="#2a2a2a" stroke-width="0.85"/><rect x="534.2" y="394.76" width="8.23" height="2.94" fill="#CC6677" stroke="#1a1a1a" stroke-width="0.85"/><line x1="534.2" y1="395.89" x2="542.43" y2="395.89" stroke="#111" stroke-width="1.4"/><line x1="547.47" y1="392.95" x2="547.47" y2="394.76" stroke="#2a2a2a" stroke-width="0.85"/><line x1="547.47" y1="397.7" x2="547.47" y2="401.54" stroke="#2a2a2a" stroke-width="0.85"/><rect x="543.35" y="394.76" width="8.23" height="2.94" fill="#DDCC77" stroke="#1a1a1a" stroke-width="0.85"/><line x1="543.35" y1="396.12" x2="551.58" y2="396.12" stroke="#111" stroke-width="1.4"/><line x1="565.76" y1="398.83" x2="565.76" y2="404.25" stroke="#2a2a2a" stroke-width="0.85"/><line x1="565.76" y1="408.77" x2="565.76" y2="413.97" stroke="#2a2a2a" stroke-width="0.85"/><rect x="561.65" y="404.25" width="8.23" height="4.52" fill="#88CCEE" stroke="#1a1a1a" stroke-width="0.85"/><line x1="561.65" y1="406.06" x2="569.88" y2="406.06" stroke="#111" stroke-width="1.4"/><circle cx="565.76" cy="415.55" r="1.45" fill="#111"/><line x1="574.91" y1="393.63" x2="574.91" y2="397.02" stroke="#2a2a2a" stroke-width="0.85"/><line x1="574.91" y1="400.86" x2="574.91" y2="404.93" stroke="#2a2a2a" stroke-width="0.85"/><rect x="570.8" y="397.02" width="8.23" height="3.84" fill="#CC6677" stroke="#1a1a1a" stroke-width="0.85"/><line x1="570.8" y1="398.83" x2="579.03" y2="398.83" stroke="#111" stroke-width="1.4"/><circle cx="574.91" cy="408.32" r="1.45" fill="#111"/><line x1="584.06" y1="393.63" x2="584.06" y2="396.57" stroke="#2a2a2a" stroke-width="0.85"/><line x1="584.06" y1="400.86" x2="584.06" y2="404.93" stroke="#2a2a2a" stroke-width="0.85"/><rect x="579.94" y="396.57" width="8.23" height="4.29" fill="#DDCC77" stroke="#1a1a1a" stroke-width="0.85"/><line x1="579.94" y1="398.83" x2="588.18" y2="398.83" stroke="#111" stroke-width="1.4"/><circle cx="584.06" cy="408.32" r="1.45" fill="#111"/><line x1="602.36" y1="408.32" x2="602.36" y2="413.97" stroke="#2a2a2a" stroke-width="0.85"/><line x1="602.36" y1="418.94" x2="602.36" y2="424.82" stroke="#2a2a2a" stroke-width="0.85"/><rect x="598.24" y="413.97" width="8.23" height="4.97" fill="#88CCEE" stroke="#1a1a1a" stroke-width="0.85"/><line x1="598.24" y1="416.68" x2="606.48" y2="416.68" stroke="#111" stroke-width="1.4"/><circle cx="602.36" cy="403.35" r="1.45" fill="#111"/><circle cx="602.36" cy="404.93" r="1.45" fill="#111"/><circle cx="602.36" cy="432.73" r="1.45" fill="#111"/><line x1="611.51" y1="394.76" x2="611.51" y2="400.41" stroke="#2a2a2a" stroke-width="0.85"/><line x1="611.51" y1="405.61" x2="611.51" y2="412.16" stroke="#2a2a2a" stroke-width="0.85"/><rect x="607.39" y="400.41" width="8.23" height="5.2" fill="#CC6677" stroke="#1a1a1a" stroke-width="0.85"/><line x1="607.39" y1="403.12" x2="615.62" y2="403.12" stroke="#111" stroke-width="1.4"/><line x1="620.66" y1="394.76" x2="620.66" y2="400.41" stroke="#2a2a2a" stroke-width="0.85"/><line x1="620.66" y1="405.61" x2="620.66" y2="412.16" stroke="#2a2a2a" stroke-width="0.85"/><rect x="616.54" y="400.41" width="8.23" height="5.2" fill="#DDCC77" stroke="#1a1a1a" stroke-width="0.85"/><line x1="616.54" y1="402.67" x2="624.77" y2="402.67" stroke="#111" stroke-width="1.4"/><line x1="638.95" y1="423.46" x2="638.95" y2="431.37" stroke="#2a2a2a" stroke-width="0.85"/><line x1="638.95" y1="439.96" x2="638.95" y2="449" stroke="#2a2a2a" stroke-width="0.85"/><rect x="634.84" y="431.37" width="8.23" height="8.59" fill="#88CCEE" stroke="#1a1a1a" stroke-width="0.85"/><line x1="634.84" y1="435.44" x2="643.07" y2="435.44" stroke="#111" stroke-width="1.4"/><line x1="648.1" y1="403.35" x2="648.1" y2="409.9" stroke="#2a2a2a" stroke-width="0.85"/><line x1="648.1" y1="419.62" x2="648.1" y2="429.79" stroke="#2a2a2a" stroke-width="0.85"/><rect x="643.99" y="409.9" width="8.23" height="9.72" fill="#CC6677" stroke="#1a1a1a" stroke-width="0.85"/><line x1="643.99" y1="412.84" x2="652.22" y2="412.84" stroke="#111" stroke-width="1.4"/><circle cx="648.1" cy="437.7" r="1.45" fill="#111"/><line x1="657.25" y1="403.35" x2="657.25" y2="408.77" stroke="#2a2a2a" stroke-width="0.85"/><line x1="657.25" y1="419.62" x2="657.25" y2="427.98" stroke="#2a2a2a" stroke-width="0.85"/><rect x="653.13" y="408.77" width="8.23" height="10.85" fill="#DDCC77" stroke="#1a1a1a" stroke-width="0.85"/><line x1="653.13" y1="412.39" x2="661.37" y2="412.39" stroke="#111" stroke-width="1.4"/><circle cx="657.25" cy="437.7" r="1.45" fill="#111"/><rect x="516.36" y="383.06" width="153.7" height="118.55" fill="none" stroke="#4a4a4a" stroke-width="0.95"/><line x1="45.1" y1="619.45" x2="195.8" y2="619.45" stroke="#d2d2d2" stroke-width="0.9" stroke-dasharray="1 1.95" /><line x1="45.1" y1="592.44" x2="195.8" y2="592.44" stroke="#d2d2d2" stroke-width="0.9" stroke-dasharray="1 1.95" /><line x1="45.1" y1="565.44" x2="195.8" y2="565.44" stroke="#d2d2d2" stroke-width="0.9" stroke-dasharray="1 1.95" /><line x1="45.1" y1="538.43" x2="195.8" y2="538.43" stroke="#d2d2d2" stroke-width="0.9" stroke-dasharray="1 1.95" /><line x1="45.1" y1="511.43" x2="195.8" y2="511.43" stroke="#d2d2d2" stroke-width="0.9" stroke-dasharray="1 1.95" /><line x1="57.7" y1="533.4" x2="57.7" y2="542.91" stroke="#2a2a2a" stroke-width="0.85"/><line x1="57.7" y1="551.51" x2="57.7" y2="560.57" stroke="#2a2a2a" stroke-width="0.85"/><rect x="51.52" y="542.91" width="12.35" height="8.61" fill="#88CCEE" stroke="#1a1a1a" stroke-width="0.85"/><line x1="51.52" y1="544.72" x2="63.87" y2="544.72" stroke="#111" stroke-width="1.4"/><circle cx="57.7" cy="565.1" r="1.45" fill="#111"/><line x1="71.42" y1="523.66" x2="71.42" y2="528.87" stroke="#2a2a2a" stroke-width="0.85"/><line x1="71.42" y1="537.93" x2="71.42" y2="551.51" stroke="#2a2a2a" stroke-width="0.85"/><rect x="65.24" y="528.87" width="12.35" height="9.06" fill="#CC6677" stroke="#1a1a1a" stroke-width="0.85"/><line x1="65.24" y1="532.72" x2="77.59" y2="532.72" stroke="#111" stroke-width="1.4"/><circle cx="71.42" cy="552.42" r="1.45" fill="#111"/><circle cx="71.42" cy="553.55" r="1.45" fill="#111"/><line x1="94.29" y1="520.94" x2="94.29" y2="525.92" stroke="#2a2a2a" stroke-width="0.85"/><line x1="94.29" y1="532.72" x2="94.29" y2="540.19" stroke="#2a2a2a" stroke-width="0.85"/><rect x="88.12" y="525.92" width="12.35" height="6.79" fill="#88CCEE" stroke="#1a1a1a" stroke-width="0.85"/><line x1="88.12" y1="527.73" x2="100.47" y2="527.73" stroke="#111" stroke-width="1.4"/><circle cx="94.29" cy="543.59" r="1.45" fill="#111"/><line x1="108.01" y1="516.41" x2="108.01" y2="520.26" stroke="#2a2a2a" stroke-width="0.85"/><line x1="108.01" y1="525.47" x2="108.01" y2="530.45" stroke="#2a2a2a" stroke-width="0.85"/><rect x="101.84" y="520.26" width="12.35" height="5.21" fill="#CC6677" stroke="#1a1a1a" stroke-width="0.85"/><line x1="101.84" y1="522.53" x2="114.19" y2="522.53" stroke="#111" stroke-width="1.4"/><circle cx="108.01" cy="539.06" r="1.45" fill="#111"/><line x1="130.89" y1="516.86" x2="130.89" y2="519.36" stroke="#2a2a2a" stroke-width="0.85"/><line x1="130.89" y1="523.21" x2="130.89" y2="527.73" stroke="#2a2a2a" stroke-width="0.85"/><rect x="124.71" y="519.36" width="12.35" height="3.85" fill="#88CCEE" stroke="#1a1a1a" stroke-width="0.85"/><line x1="124.71" y1="520.94" x2="137.06" y2="520.94" stroke="#111" stroke-width="1.4"/><circle cx="130.89" cy="528.41" r="1.45" fill="#111"/><line x1="144.61" y1="515.28" x2="144.61" y2="516.41" stroke="#2a2a2a" stroke-width="0.85"/><line x1="144.61" y1="519.36" x2="144.61" y2="522.07" stroke="#2a2a2a" stroke-width="0.85"/><rect x="138.43" y="516.41" width="12.35" height="2.94" fill="#CC6677" stroke="#1a1a1a" stroke-width="0.85"/><line x1="138.43" y1="517.54" x2="150.78" y2="517.54" stroke="#111" stroke-width="1.4"/><circle cx="144.61" cy="523.21" r="1.45" fill="#111"/><line x1="167.48" y1="514.6" x2="167.48" y2="517.09" stroke="#2a2a2a" stroke-width="0.85"/><line x1="167.48" y1="519.81" x2="167.48" y2="522.75" stroke="#2a2a2a" stroke-width="0.85"/><rect x="161.31" y="517.09" width="12.35" height="2.72" fill="#88CCEE" stroke="#1a1a1a" stroke-width="0.85"/><line x1="161.31" y1="518.22" x2="173.66" y2="518.22" stroke="#111" stroke-width="1.4"/><line x1="181.2" y1="513.69" x2="181.2" y2="515.05" stroke="#2a2a2a" stroke-width="0.85"/><line x1="181.2" y1="517.54" x2="181.2" y2="519.13" stroke="#2a2a2a" stroke-width="0.85"/><rect x="175.03" y="515.05" width="12.35" height="2.49" fill="#CC6677" stroke="#1a1a1a" stroke-width="0.85"/><line x1="175.03" y1="515.96" x2="187.38" y2="515.96" stroke="#111" stroke-width="1.4"/><circle cx="181.2" cy="520.49" r="1.45" fill="#111"/><rect x="42.6" y="505.83" width="153.7" height="118.55" fill="none" stroke="#4a4a4a" stroke-width="0.95"/><line x1="203.02" y1="619.45" x2="353.72" y2="619.45" stroke="#d2d2d2" stroke-width="0.9" stroke-dasharray="1 1.95" /><line x1="203.02" y1="592.44" x2="353.72" y2="592.44" stroke="#d2d2d2" stroke-width="0.9" stroke-dasharray="1 1.95" /><line x1="203.02" y1="565.44" x2="353.72" y2="565.44" stroke="#d2d2d2" stroke-width="0.9" stroke-dasharray="1 1.95" /><line x1="203.02" y1="538.43" x2="353.72" y2="538.43" stroke="#d2d2d2" stroke-width="0.9" stroke-dasharray="1 1.95" /><line x1="203.02" y1="511.43" x2="353.72" y2="511.43" stroke="#d2d2d2" stroke-width="0.9" stroke-dasharray="1 1.95" /><line x1="220.33" y1="516.41" x2="220.33" y2="519.13" stroke="#2a2a2a" stroke-width="0.85"/><line x1="220.33" y1="523.21" x2="220.33" y2="526.6" stroke="#2a2a2a" stroke-width="0.85"/><rect x="212.23" y="519.13" width="16.21" height="4.08" fill="#88CCEE" stroke="#1a1a1a" stroke-width="0.85"/><line x1="212.23" y1="520.94" x2="228.44" y2="520.94" stroke="#111" stroke-width="1.4"/><line x1="238.34" y1="514.6" x2="238.34" y2="516.41" stroke="#2a2a2a" stroke-width="0.85"/><line x1="238.34" y1="519.36" x2="238.34" y2="522.07" stroke="#2a2a2a" stroke-width="0.85"/><rect x="230.24" y="516.41" width="16.21" height="2.94" fill="#CC6677" stroke="#1a1a1a" stroke-width="0.85"/><line x1="230.24" y1="518" x2="246.45" y2="518" stroke="#111" stroke-width="1.4"/><line x1="268.36" y1="516.86" x2="268.36" y2="519.36" stroke="#2a2a2a" stroke-width="0.85"/><line x1="268.36" y1="523.21" x2="268.36" y2="527.73" stroke="#2a2a2a" stroke-width="0.85"/><rect x="260.26" y="519.36" width="16.21" height="3.85" fill="#88CCEE" stroke="#1a1a1a" stroke-width="0.85"/><line x1="260.26" y1="520.94" x2="276.47" y2="520.94" stroke="#111" stroke-width="1.4"/><circle cx="268.36" cy="528.41" r="1.45" fill="#111"/><line x1="286.38" y1="515.28" x2="286.38" y2="516.41" stroke="#2a2a2a" stroke-width="0.85"/><line x1="286.38" y1="519.36" x2="286.38" y2="522.07" stroke="#2a2a2a" stroke-width="0.85"/><rect x="278.27" y="516.41" width="16.21" height="2.94" fill="#CC6677" stroke="#1a1a1a" stroke-width="0.85"/><line x1="278.27" y1="517.54" x2="294.48" y2="517.54" stroke="#111" stroke-width="1.4"/><circle cx="286.38" cy="523.21" r="1.45" fill="#111"/><line x1="316.4" y1="514.6" x2="316.4" y2="519.13" stroke="#2a2a2a" stroke-width="0.85"/><line x1="316.4" y1="523.21" x2="316.4" y2="527.73" stroke="#2a2a2a" stroke-width="0.85"/><rect x="308.29" y="519.13" width="16.21" height="4.08" fill="#88CCEE" stroke="#1a1a1a" stroke-width="0.85"/><line x1="308.29" y1="520.49" x2="324.5" y2="520.49" stroke="#111" stroke-width="1.4"/><circle cx="316.4" cy="529.55" r="1.45" fill="#111"/><circle cx="316.4" cy="530.45" r="1.45" fill="#111"/><line x1="334.41" y1="513.69" x2="334.41" y2="516.41" stroke="#2a2a2a" stroke-width="0.85"/><line x1="334.41" y1="519.81" x2="334.41" y2="524.34" stroke="#2a2a2a" stroke-width="0.85"/><rect x="326.3" y="516.41" width="16.21" height="3.4" fill="#CC6677" stroke="#1a1a1a" stroke-width="0.85"/><line x1="326.3" y1="518" x2="342.51" y2="518" stroke="#111" stroke-width="1.4"/><rect x="200.52" y="505.83" width="153.7" height="118.55" fill="none" stroke="#4a4a4a" stroke-width="0.95"/><line x1="360.94" y1="619.45" x2="511.64" y2="619.45" stroke="#d2d2d2" stroke-width="0.9" stroke-dasharray="1 1.95" /><line x1="360.94" y1="592.44" x2="511.64" y2="592.44" stroke="#d2d2d2" stroke-width="0.9" stroke-dasharray="1 1.95" /><line x1="360.94" y1="565.44" x2="511.64" y2="565.44" stroke="#d2d2d2" stroke-width="0.9" stroke-dasharray="1 1.95" /><line x1="360.94" y1="538.43" x2="511.64" y2="538.43" stroke="#d2d2d2" stroke-width="0.9" stroke-dasharray="1 1.95" /><line x1="360.94" y1="511.43" x2="511.64" y2="511.43" stroke="#d2d2d2" stroke-width="0.9" stroke-dasharray="1 1.95" /><line x1="378.25" y1="531.58" x2="378.25" y2="544.72" stroke="#2a2a2a" stroke-width="0.85"/><line x1="378.25" y1="565.55" x2="378.25" y2="596.8" stroke="#2a2a2a" stroke-width="0.85"/><rect x="370.15" y="544.72" width="16.21" height="20.83" fill="#88CCEE" stroke="#1a1a1a" stroke-width="0.85"/><line x1="370.15" y1="558.31" x2="386.36" y2="558.31" stroke="#111" stroke-width="1.4"/><line x1="396.26" y1="519.81" x2="396.26" y2="528.19" stroke="#2a2a2a" stroke-width="0.85"/><line x1="396.26" y1="544.27" x2="396.26" y2="566.23" stroke="#2a2a2a" stroke-width="0.85"/><rect x="388.16" y="528.19" width="16.21" height="16.08" fill="#CC6677" stroke="#1a1a1a" stroke-width="0.85"/><line x1="388.16" y1="534.98" x2="404.37" y2="534.98" stroke="#111" stroke-width="1.4"/><circle cx="396.26" cy="569.18" r="1.45" fill="#111"/><line x1="426.28" y1="516.86" x2="426.28" y2="519.36" stroke="#2a2a2a" stroke-width="0.85"/><line x1="426.28" y1="523.21" x2="426.28" y2="527.73" stroke="#2a2a2a" stroke-width="0.85"/><rect x="418.18" y="519.36" width="16.21" height="3.85" fill="#88CCEE" stroke="#1a1a1a" stroke-width="0.85"/><line x1="418.18" y1="520.94" x2="434.39" y2="520.94" stroke="#111" stroke-width="1.4"/><circle cx="426.28" cy="528.41" r="1.45" fill="#111"/><line x1="444.3" y1="515.28" x2="444.3" y2="516.41" stroke="#2a2a2a" stroke-width="0.85"/><line x1="444.3" y1="519.36" x2="444.3" y2="522.07" stroke="#2a2a2a" stroke-width="0.85"/><rect x="436.19" y="516.41" width="16.21" height="2.94" fill="#CC6677" stroke="#1a1a1a" stroke-width="0.85"/><line x1="436.19" y1="517.54" x2="452.4" y2="517.54" stroke="#111" stroke-width="1.4"/><circle cx="444.3" cy="523.21" r="1.45" fill="#111"/><line x1="474.32" y1="513.02" x2="474.32" y2="513.24" stroke="#2a2a2a" stroke-width="0.85"/><line x1="474.32" y1="514.6" x2="474.32" y2="515.73" stroke="#2a2a2a" stroke-width="0.85"/><rect x="466.21" y="513.24" width="16.21" height="1.36" fill="#88CCEE" stroke="#1a1a1a" stroke-width="0.85"/><line x1="466.21" y1="513.69" x2="482.42" y2="513.69" stroke="#111" stroke-width="1.4"/><line x1="492.33" y1="512.34" x2="492.33" y2="512.56" stroke="#2a2a2a" stroke-width="0.85"/><line x1="492.33" y1="513.69" x2="492.33" y2="514.6" stroke="#2a2a2a" stroke-width="0.85"/><rect x="484.22" y="512.56" width="16.21" height="1.13" fill="#CC6677" stroke="#1a1a1a" stroke-width="0.85"/><line x1="484.22" y1="513.02" x2="500.43" y2="513.02" stroke="#111" stroke-width="1.4"/><circle cx="492.33" cy="515.28" r="1.45" fill="#111"/><rect x="358.44" y="505.83" width="153.7" height="118.55" fill="none" stroke="#4a4a4a" stroke-width="0.95"/><line x1="518.86" y1="619.45" x2="669.56" y2="619.45" stroke="#d2d2d2" stroke-width="0.9" stroke-dasharray="1 1.95" /><line x1="518.86" y1="592.44" x2="669.56" y2="592.44" stroke="#d2d2d2" stroke-width="0.9" stroke-dasharray="1 1.95" /><line x1="518.86" y1="565.44" x2="669.56" y2="565.44" stroke="#d2d2d2" stroke-width="0.9" stroke-dasharray="1 1.95" /><line x1="518.86" y1="538.43" x2="669.56" y2="538.43" stroke="#d2d2d2" stroke-width="0.9" stroke-dasharray="1 1.95" /><line x1="518.86" y1="511.43" x2="669.56" y2="511.43" stroke="#d2d2d2" stroke-width="0.9" stroke-dasharray="1 1.95" /><line x1="531.46" y1="516.86" x2="531.46" y2="519.36" stroke="#2a2a2a" stroke-width="0.85"/><line x1="531.46" y1="523.21" x2="531.46" y2="527.73" stroke="#2a2a2a" stroke-width="0.85"/><rect x="525.28" y="519.36" width="12.35" height="3.85" fill="#88CCEE" stroke="#1a1a1a" stroke-width="0.85"/><line x1="525.28" y1="520.94" x2="537.63" y2="520.94" stroke="#111" stroke-width="1.4"/><circle cx="531.46" cy="528.41" r="1.45" fill="#111"/><line x1="545.18" y1="515.28" x2="545.18" y2="516.41" stroke="#2a2a2a" stroke-width="0.85"/><line x1="545.18" y1="519.36" x2="545.18" y2="522.07" stroke="#2a2a2a" stroke-width="0.85"/><rect x="539" y="516.41" width="12.35" height="2.94" fill="#CC6677" stroke="#1a1a1a" stroke-width="0.85"/><line x1="539" y1="517.54" x2="551.35" y2="517.54" stroke="#111" stroke-width="1.4"/><circle cx="545.18" cy="523.21" r="1.45" fill="#111"/><line x1="568.05" y1="520.49" x2="568.05" y2="524.34" stroke="#2a2a2a" stroke-width="0.85"/><line x1="568.05" y1="529.32" x2="568.05" y2="532.94" stroke="#2a2a2a" stroke-width="0.85"/><rect x="561.88" y="524.34" width="12.35" height="4.98" fill="#88CCEE" stroke="#1a1a1a" stroke-width="0.85"/><line x1="561.88" y1="526.6" x2="574.23" y2="526.6" stroke="#111" stroke-width="1.4"/><line x1="581.77" y1="515.96" x2="581.77" y2="519.13" stroke="#2a2a2a" stroke-width="0.85"/><line x1="581.77" y1="522.75" x2="581.77" y2="525.92" stroke="#2a2a2a" stroke-width="0.85"/><rect x="575.6" y="519.13" width="12.35" height="3.62" fill="#CC6677" stroke="#1a1a1a" stroke-width="0.85"/><line x1="575.6" y1="520.94" x2="587.95" y2="520.94" stroke="#111" stroke-width="1.4"/><circle cx="581.77" cy="529.32" r="1.45" fill="#111"/><line x1="604.65" y1="529.55" x2="604.65" y2="533.4" stroke="#2a2a2a" stroke-width="0.85"/><line x1="604.65" y1="537.93" x2="604.65" y2="541.32" stroke="#2a2a2a" stroke-width="0.85"/><rect x="598.47" y="533.4" width="12.35" height="4.53" fill="#88CCEE" stroke="#1a1a1a" stroke-width="0.85"/><line x1="598.47" y1="535.66" x2="610.82" y2="535.66" stroke="#111" stroke-width="1.4"/><circle cx="604.65" cy="523.89" r="1.45" fill="#111"/><circle cx="604.65" cy="525.47" r="1.45" fill="#111"/><circle cx="604.65" cy="544.04" r="1.45" fill="#111"/><line x1="618.37" y1="516.41" x2="618.37" y2="522.07" stroke="#2a2a2a" stroke-width="0.85"/><line x1="618.37" y1="527.28" x2="618.37" y2="533.85" stroke="#2a2a2a" stroke-width="0.85"/><rect x="612.19" y="522.07" width="12.35" height="5.21" fill="#CC6677" stroke="#1a1a1a" stroke-width="0.85"/><line x1="612.19" y1="524.34" x2="624.54" y2="524.34" stroke="#111" stroke-width="1.4"/><line x1="641.24" y1="545.4" x2="641.24" y2="551.51" stroke="#2a2a2a" stroke-width="0.85"/><line x1="641.24" y1="558.31" x2="641.24" y2="566.69" stroke="#2a2a2a" stroke-width="0.85"/><rect x="635.07" y="551.51" width="12.35" height="6.79" fill="#88CCEE" stroke="#1a1a1a" stroke-width="0.85"/><line x1="635.07" y1="554.91" x2="647.42" y2="554.91" stroke="#111" stroke-width="1.4"/><line x1="654.96" y1="524.34" x2="654.96" y2="530.68" stroke="#2a2a2a" stroke-width="0.85"/><line x1="654.96" y1="540.64" x2="654.96" y2="553.78" stroke="#2a2a2a" stroke-width="0.85"/><rect x="648.79" y="530.68" width="12.35" height="9.96" fill="#CC6677" stroke="#1a1a1a" stroke-width="0.85"/><line x1="648.79" y1="534.98" x2="661.14" y2="534.98" stroke="#111" stroke-width="1.4"/><rect x="516.36" y="505.83" width="153.7" height="118.55" fill="none" stroke="#4a4a4a" stroke-width="0.95"/><rect x="42.3" y="0" width="154.3" height="15" fill="#000"/><text x="0" y="0" font-size="9.6" font-weight="bold" fill="#fff" text-anchor="middle" transform="translate(119.45 11.1) scale(1 1.07)">CORg</text><rect x="200.22" y="0" width="154.3" height="15" fill="#000"/><text x="0" y="0" font-size="9.6" font-weight="bold" fill="#fff" text-anchor="middle" transform="translate(277.37 11.1) scale(1 1.07)">Env.Mean.SD</text><rect x="358.14" y="0" width="154.3" height="15" fill="#000"/><text x="0" y="0" font-size="9.6" font-weight="bold" fill="#fff" text-anchor="middle" transform="translate(435.29 11.1) scale(1 1.07)">h2</text><rect x="516.06" y="0" width="154.3" height="15" fill="#000"/><text x="0" y="0" font-size="9.6" font-weight="bold" fill="#fff" text-anchor="middle" transform="translate(593.21 11.1) scale(1 1.07)">Sparseness</text><rect x="669.7" y="14.45" width="15.3" height="119.15" fill="#000"/><text x="0" y="0" font-size="9.6" font-weight="bold" fill="#fff" text-anchor="middle" transform="translate(673.8 74.03) rotate(90) scale(1 1.07)">Ecovalence</text><rect x="669.7" y="137.22" width="15.3" height="119.15" fill="#000"/><text x="0" y="0" font-size="9.6" font-weight="bold" fill="#fff" text-anchor="middle" transform="translate(673.8 196.79) rotate(90) scale(1 1.07)">EnvironmentalVar</text><rect x="669.7" y="259.99" width="15.3" height="119.15" fill="#000"/><text x="0" y="0" font-size="9.6" font-weight="bold" fill="#fff" text-anchor="middle" transform="translate(673.8 319.56) rotate(90) scale(1 1.07)">FinlayWilkinson</text><rect x="669.7" y="382.76" width="15.3" height="119.15" fill="#000"/><text x="0" y="0" font-size="9.6" font-weight="bold" fill="#fff" text-anchor="middle" transform="translate(673.8 442.33) rotate(90) scale(1 1.07)">LinBinns</text><rect x="669.7" y="505.53" width="15.3" height="119.15" fill="#000"/><text x="0" y="0" font-size="9.6" font-weight="bold" fill="#fff" text-anchor="middle" transform="translate(673.8 565.11) rotate(90) scale(1 1.07)">Average</text><line x1="40.5" y1="128.37" x2="42.3" y2="128.37" stroke="#333" stroke-width="0.9"/><text x="0" y="0" font-size="10.05" fill="#1e1e1e" text-anchor="end" transform="translate(39.2 132.02) scale(1 1.0)">0.00</text><line x1="40.5" y1="101.37" x2="42.3" y2="101.37" stroke="#333" stroke-width="0.9"/><text x="0" y="0" font-size="10.05" fill="#1e1e1e" text-anchor="end" transform="translate(39.2 105.02) scale(1 1.0)">0.25</text><line x1="40.5" y1="74.36" x2="42.3" y2="74.36" stroke="#333" stroke-width="0.9"/><text x="0" y="0" font-size="10.05" fill="#1e1e1e" text-anchor="end" transform="translate(39.2 78.01) scale(1 1.0)">0.50</text><line x1="40.5" y1="47.36" x2="42.3" y2="47.36" stroke="#333" stroke-width="0.9"/><text x="0" y="0" font-size="10.05" fill="#1e1e1e" text-anchor="end" transform="translate(39.2 51.01) scale(1 1.0)">0.75</text><line x1="40.5" y1="20.35" x2="42.3" y2="20.35" stroke="#333" stroke-width="0.9"/><text x="0" y="0" font-size="10.05" fill="#1e1e1e" text-anchor="end" transform="translate(39.2 24) scale(1 1.0)"> .00</text><path d="M515 0L696 0L696 1409L578 1409C545 1340 485 1270 400 1205C340 1160 270 1120 197 1090L197 930C320 975 430 1050 515 1130Z" fill="#1e1e1e" transform="translate(19.64 24) scale(0.004907 -0.004907)"/><line x1="40.5" y1="251.14" x2="42.3" y2="251.14" stroke="#333" stroke-width="0.9"/><text x="0" y="0" font-size="10.05" fill="#1e1e1e" text-anchor="end" transform="translate(39.2 254.79) scale(1 1.0)">0.00</text><line x1="40.5" y1="224.13" x2="42.3" y2="224.13" stroke="#333" stroke-width="0.9"/><text x="0" y="0" font-size="10.05" fill="#1e1e1e" text-anchor="end" transform="translate(39.2 227.78) scale(1 1.0)">0.25</text><line x1="40.5" y1="197.13" x2="42.3" y2="197.13" stroke="#333" stroke-width="0.9"/><text x="0" y="0" font-size="10.05" fill="#1e1e1e" text-anchor="end" transform="translate(39.2 200.78) scale(1 1.0)">0.50</text><line x1="40.5" y1="170.12" x2="42.3" y2="170.12" stroke="#333" stroke-width="0.9"/><text x="0" y="0" font-size="10.05" fill="#1e1e1e" text-anchor="end" transform="translate(39.2 173.78) scale(1 1.0)">0.75</text><line x1="40.5" y1="143.12" x2="42.3" y2="143.12" stroke="#333" stroke-width="0.9"/><text x="0" y="0" font-size="10.05" fill="#1e1e1e" text-anchor="end" transform="translate(39.2 146.77) scale(1 1.0)"> .00</text><path d="M515 0L696 0L696 1409L578 1409C545 1340 485 1270 400 1205C340 1160 270 1120 197 1090L197 930C320 975 430 1050 515 1130Z" fill="#1e1e1e" transform="translate(19.64 146.77) scale(0.004907 -0.004907)"/><line x1="40.5" y1="373.91" x2="42.3" y2="373.91" stroke="#333" stroke-width="0.9"/><text x="0" y="0" font-size="10.05" fill="#1e1e1e" text-anchor="end" transform="translate(39.2 377.56) scale(1 1.0)">0.00</text><line x1="40.5" y1="346.9" x2="42.3" y2="346.9" stroke="#333" stroke-width="0.9"/><text x="0" y="0" font-size="10.05" fill="#1e1e1e" text-anchor="end" transform="translate(39.2 350.55) scale(1 1.0)">0.25</text><line x1="40.5" y1="319.9" x2="42.3" y2="319.9" stroke="#333" stroke-width="0.9"/><text x="0" y="0" font-size="10.05" fill="#1e1e1e" text-anchor="end" transform="translate(39.2 323.55) scale(1 1.0)">0.50</text><line x1="40.5" y1="292.89" x2="42.3" y2="292.89" stroke="#333" stroke-width="0.9"/><text x="0" y="0" font-size="10.05" fill="#1e1e1e" text-anchor="end" transform="translate(39.2 296.54) scale(1 1.0)">0.75</text><line x1="40.5" y1="265.89" x2="42.3" y2="265.89" stroke="#333" stroke-width="0.9"/><text x="0" y="0" font-size="10.05" fill="#1e1e1e" text-anchor="end" transform="translate(39.2 269.54) scale(1 1.0)"> .00</text><path d="M515 0L696 0L696 1409L578 1409C545 1340 485 1270 400 1205C340 1160 270 1120 197 1090L197 930C320 975 430 1050 515 1130Z" fill="#1e1e1e" transform="translate(19.64 269.54) scale(0.004907 -0.004907)"/><line x1="40.5" y1="496.68" x2="42.3" y2="496.68" stroke="#333" stroke-width="0.9"/><text x="0" y="0" font-size="10.05" fill="#1e1e1e" text-anchor="end" transform="translate(39.2 500.33) scale(1 1.0)">0.00</text><line x1="40.5" y1="469.68" x2="42.3" y2="469.68" stroke="#333" stroke-width="0.9"/><text x="0" y="0" font-size="10.05" fill="#1e1e1e" text-anchor="end" transform="translate(39.2 473.32) scale(1 1.0)">0.25</text><line x1="40.5" y1="442.67" x2="42.3" y2="442.67" stroke="#333" stroke-width="0.9"/><text x="0" y="0" font-size="10.05" fill="#1e1e1e" text-anchor="end" transform="translate(39.2 446.32) scale(1 1.0)">0.50</text><line x1="40.5" y1="415.67" x2="42.3" y2="415.67" stroke="#333" stroke-width="0.9"/><text x="0" y="0" font-size="10.05" fill="#1e1e1e" text-anchor="end" transform="translate(39.2 419.31) scale(1 1.0)">0.75</text><line x1="40.5" y1="388.66" x2="42.3" y2="388.66" stroke="#333" stroke-width="0.9"/><text x="0" y="0" font-size="10.05" fill="#1e1e1e" text-anchor="end" transform="translate(39.2 392.31) scale(1 1.0)"> .00</text><path d="M515 0L696 0L696 1409L578 1409C545 1340 485 1270 400 1205C340 1160 270 1120 197 1090L197 930C320 975 430 1050 515 1130Z" fill="#1e1e1e" transform="translate(19.64 392.31) scale(0.004907 -0.004907)"/><line x1="40.5" y1="619.45" x2="42.3" y2="619.45" stroke="#333" stroke-width="0.9"/><text x="0" y="0" font-size="10.05" fill="#1e1e1e" text-anchor="end" transform="translate(39.2 623.1) scale(1 1.0)">0.00</text><line x1="40.5" y1="592.44" x2="42.3" y2="592.44" stroke="#333" stroke-width="0.9"/><text x="0" y="0" font-size="10.05" fill="#1e1e1e" text-anchor="end" transform="translate(39.2 596.09) scale(1 1.0)">0.25</text><line x1="40.5" y1="565.44" x2="42.3" y2="565.44" stroke="#333" stroke-width="0.9"/><text x="0" y="0" font-size="10.05" fill="#1e1e1e" text-anchor="end" transform="translate(39.2 569.09) scale(1 1.0)">0.50</text><line x1="40.5" y1="538.43" x2="42.3" y2="538.43" stroke="#333" stroke-width="0.9"/><text x="0" y="0" font-size="10.05" fill="#1e1e1e" text-anchor="end" transform="translate(39.2 542.08) scale(1 1.0)">0.75</text><line x1="40.5" y1="511.43" x2="42.3" y2="511.43" stroke="#333" stroke-width="0.9"/><text x="0" y="0" font-size="10.05" fill="#1e1e1e" text-anchor="end" transform="translate(39.2 515.08) scale(1 1.0)"> .00</text><path d="M515 0L696 0L696 1409L578 1409C545 1340 485 1270 400 1205C340 1160 270 1120 197 1090L197 930C320 975 430 1050 515 1130Z" fill="#1e1e1e" transform="translate(19.64 515.08) scale(0.004907 -0.004907)"/><line x1="64.56" y1="624.88" x2="64.56" y2="626.78" stroke="#333" stroke-width="0.9"/><text x="0" y="0" font-size="11.4" fill="#1e1e1e" text-anchor="middle" transform="translate(64.56 636.5) scale(1 1.07)">0</text><line x1="101.15" y1="624.88" x2="101.15" y2="626.78" stroke="#333" stroke-width="0.9"/><text x="0" y="0" font-size="11.4" fill="#1e1e1e" text-anchor="middle" transform="translate(101.15 636.5) scale(1 1.07)">0.2</text><line x1="137.75" y1="624.88" x2="137.75" y2="626.78" stroke="#333" stroke-width="0.9"/><text x="0" y="0" font-size="11.4" fill="#1e1e1e" text-anchor="middle" transform="translate(137.75 636.5) scale(1 1.07)">0.5</text><line x1="174.34" y1="624.88" x2="174.34" y2="626.78" stroke="#333" stroke-width="0.9"/><text x="0" y="0" font-size="11.4" fill="#1e1e1e" text-anchor="middle" transform="translate(174.34 636.5) scale(1 1.07)">0.8</text><line x1="229.34" y1="624.88" x2="229.34" y2="626.78" stroke="#333" stroke-width="0.9"/><text x="0" y="0" font-size="11.4" fill="#1e1e1e" text-anchor="middle" transform="translate(229.34 636.5) scale(1 1.07)">0. </text><path d="M515 0L696 0L696 1409L578 1409C545 1340 485 1270 400 1205C340 1160 270 1120 197 1090L197 930C320 975 430 1050 515 1130Z" fill="#1e1e1e" transform="translate(230.92 636.5) scale(0.005566 -0.005956)"/><line x1="277.37" y1="624.88" x2="277.37" y2="626.78" stroke="#333" stroke-width="0.9"/><text x="0" y="0" font-size="11.4" fill="#1e1e1e" text-anchor="middle" transform="translate(277.37 636.5) scale(1 1.07)"> </text><path d="M515 0L696 0L696 1409L578 1409C545 1340 485 1270 400 1205C340 1160 270 1120 197 1090L197 930C320 975 430 1050 515 1130Z" fill="#1e1e1e" transform="translate(274.2 636.5) scale(0.005566 -0.005956)"/><line x1="325.4" y1="624.88" x2="325.4" y2="626.78" stroke="#333" stroke-width="0.9"/><text x="0" y="0" font-size="11.4" fill="#1e1e1e" text-anchor="middle" transform="translate(325.4 636.5) scale(1 1.07)"> 0</text><path d="M515 0L696 0L696 1409L578 1409C545 1340 485 1270 400 1205C340 1160 270 1120 197 1090L197 930C320 975 430 1050 515 1130Z" fill="#1e1e1e" transform="translate(319.06 636.5) scale(0.005566 -0.005956)"/><line x1="387.26" y1="624.88" x2="387.26" y2="626.78" stroke="#333" stroke-width="0.9"/><text x="0" y="0" font-size="11.4" fill="#1e1e1e" text-anchor="middle" transform="translate(387.26 636.5) scale(1 1.07)">0.2</text><line x1="435.29" y1="624.88" x2="435.29" y2="626.78" stroke="#333" stroke-width="0.9"/><text x="0" y="0" font-size="11.4" fill="#1e1e1e" text-anchor="middle" transform="translate(435.29 636.5) scale(1 1.07)">0.5</text><line x1="483.32" y1="624.88" x2="483.32" y2="626.78" stroke="#333" stroke-width="0.9"/><text x="0" y="0" font-size="11.4" fill="#1e1e1e" text-anchor="middle" transform="translate(483.32 636.5) scale(1 1.07)">0.8</text><line x1="538.32" y1="624.88" x2="538.32" y2="626.78" stroke="#333" stroke-width="0.9"/><text x="0" y="0" font-size="11.4" fill="#1e1e1e" text-anchor="middle" transform="translate(538.32 636.5) scale(1 1.07)">0</text><line x1="574.91" y1="624.88" x2="574.91" y2="626.78" stroke="#333" stroke-width="0.9"/><text x="0" y="0" font-size="11.4" fill="#1e1e1e" text-anchor="middle" transform="translate(574.91 636.5) scale(1 1.07)">25</text><line x1="611.51" y1="624.88" x2="611.51" y2="626.78" stroke="#333" stroke-width="0.9"/><text x="0" y="0" font-size="11.4" fill="#1e1e1e" text-anchor="middle" transform="translate(611.51 636.5) scale(1 1.07)">50</text><line x1="648.1" y1="624.88" x2="648.1" y2="626.78" stroke="#333" stroke-width="0.9"/><text x="0" y="0" font-size="11.4" fill="#1e1e1e" text-anchor="middle" transform="translate(648.1 636.5) scale(1 1.07)">75</text><text x="356.5" y="655.2" font-size="13.8" fill="#000" text-anchor="middle">Levels of simulation parameters</text><text x="0" y="0" font-size="13.7" fill="#000" text-anchor="middle" transform="translate(10 319.85) rotate(-90)">Correlation</text><line x1="247.95" y1="666.0" x2="247.95" y2="674.8" stroke="#333" stroke-width="0.8"/><rect x="244.2" y="667.2" width="7.5" height="6.5" fill="#88CCEE" stroke="#222" stroke-width="0.8"/><line x1="244.2" y1="670.45" x2="251.7" y2="670.45" stroke="#111" stroke-width="1.4"/><text x="257.3" y="674.5" font-size="11.3" fill="#000">No−Geno</text><line x1="315.15" y1="666.0" x2="315.15" y2="674.8" stroke="#333" stroke-width="0.8"/><rect x="311.4" y="667.2" width="7.5" height="6.5" fill="#CC6677" stroke="#222" stroke-width="0.8"/><line x1="311.4" y1="670.45" x2="318.9" y2="670.45" stroke="#111" stroke-width="1.4"/><text x="324.3" y="674.5" font-size="11.3" fill="#000">Geno−Exp</text><line x1="387.35" y1="666.0" x2="387.35" y2="674.8" stroke="#333" stroke-width="0.8"/><rect x="383.6" y="667.2" width="7.5" height="6.5" fill="#DDCC77" stroke="#222" stroke-width="0.8"/><line x1="383.6" y1="670.45" x2="391.1" y2="670.45" stroke="#111" stroke-width="1.4"/><text x="396.2" y="674.5" font-size="11.3" fill="#000">Geno−Exp−Var</text></svg></body></html>
